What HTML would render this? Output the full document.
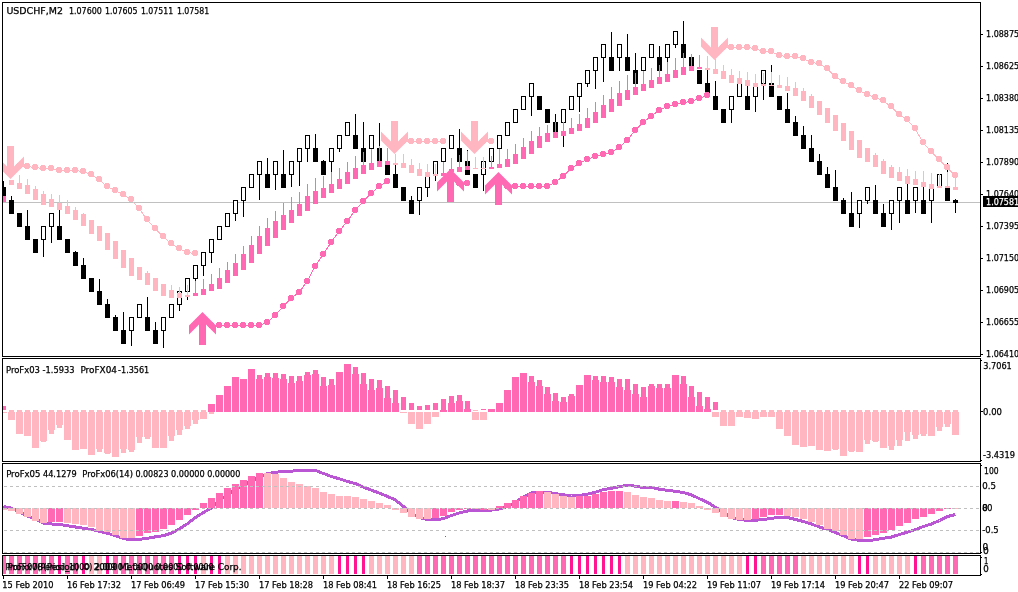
<!DOCTYPE html><html><head><meta charset="utf-8"><title>USDCHF,M2</title><style>html,body{margin:0;padding:0;background:#fff;overflow:hidden}svg{display:block}</style></head><body><svg width="1018" height="592" viewBox="0 0 1018 592">
<defs><clipPath id="cm"><rect x="3" y="3" width="977" height="353"/></clipPath><clipPath id="c1"><rect x="3" y="359" width="977" height="102"/></clipPath><clipPath id="c2"><rect x="3" y="464" width="977" height="89"/></clipPath><clipPath id="c3"><rect x="3" y="556" width="977" height="19"/></clipPath></defs>
<rect width="1018" height="592" fill="#fff"/>
<g clip-path="url(#cm)" shape-rendering="crispEdges"><rect x="3" y="202" width="978" height="1" fill="#C0C0C0"/><rect x="3" y="181" width="1" height="6" fill="#000"/><rect x="1" y="187" width="5" height="14" fill="#000"/><rect x="11" y="196" width="1" height="4" fill="#000"/><rect x="9" y="200" width="5" height="14" fill="#000"/><rect x="17" y="213" width="5" height="14" fill="#000"/><rect x="27" y="210" width="1" height="16" fill="#000"/><rect x="25" y="226" width="5" height="14" fill="#000"/><rect x="33" y="239" width="5" height="14" fill="#000"/><rect x="43" y="240" width="1" height="17" fill="#000"/><rect x="41" y="226" width="5" height="14" fill="#000"/><rect x="42" y="227" width="3" height="12" fill="#fff"/><rect x="51" y="227" width="1" height="16" fill="#000"/><rect x="49" y="213" width="5" height="14" fill="#000"/><rect x="50" y="214" width="3" height="12" fill="#fff"/><rect x="59" y="210" width="1" height="16" fill="#000"/><rect x="57" y="226" width="5" height="14" fill="#000"/><rect x="65" y="239" width="5" height="14" fill="#000"/><rect x="75" y="251" width="1" height="1" fill="#000"/><rect x="73" y="252" width="5" height="14" fill="#000"/><rect x="83" y="258" width="1" height="7" fill="#000"/><rect x="81" y="265" width="5" height="14" fill="#000"/><rect x="89" y="278" width="5" height="14" fill="#000"/><rect x="99" y="279" width="1" height="12" fill="#000"/><rect x="97" y="291" width="5" height="14" fill="#000"/><rect x="107" y="299" width="1" height="5" fill="#000"/><rect x="105" y="304" width="5" height="14" fill="#000"/><rect x="115" y="315" width="1" height="2" fill="#000"/><rect x="113" y="317" width="5" height="14" fill="#000"/><rect x="123" y="312" width="1" height="18" fill="#000"/><rect x="121" y="330" width="5" height="14" fill="#000"/><rect x="131" y="331" width="1" height="15" fill="#000"/><rect x="129" y="317" width="5" height="14" fill="#000"/><rect x="130" y="318" width="3" height="12" fill="#fff"/><rect x="137" y="304" width="5" height="14" fill="#000"/><rect x="138" y="305" width="3" height="12" fill="#fff"/><rect x="147" y="297" width="1" height="20" fill="#000"/><rect x="145" y="317" width="5" height="14" fill="#000"/><rect x="155" y="322" width="1" height="8" fill="#000"/><rect x="153" y="330" width="5" height="14" fill="#000"/><rect x="163" y="331" width="1" height="17" fill="#000"/><rect x="161" y="317" width="5" height="14" fill="#000"/><rect x="162" y="318" width="3" height="12" fill="#fff"/><rect x="169" y="304" width="5" height="14" fill="#000"/><rect x="170" y="305" width="3" height="12" fill="#fff"/><rect x="179" y="305" width="1" height="6" fill="#000"/><rect x="177" y="291" width="5" height="14" fill="#000"/><rect x="178" y="292" width="3" height="12" fill="#fff"/><rect x="187" y="292" width="1" height="8" fill="#000"/><rect x="185" y="278" width="5" height="14" fill="#000"/><rect x="186" y="279" width="3" height="12" fill="#fff"/><rect x="195" y="279" width="1" height="7" fill="#000"/><rect x="193" y="265" width="5" height="14" fill="#000"/><rect x="194" y="266" width="3" height="12" fill="#fff"/><rect x="203" y="266" width="1" height="10" fill="#000"/><rect x="201" y="252" width="5" height="14" fill="#000"/><rect x="202" y="253" width="3" height="12" fill="#fff"/><rect x="211" y="253" width="1" height="10" fill="#000"/><rect x="209" y="239" width="5" height="14" fill="#000"/><rect x="210" y="240" width="3" height="12" fill="#fff"/><rect x="217" y="226" width="5" height="14" fill="#000"/><rect x="218" y="227" width="3" height="12" fill="#fff"/><rect x="225" y="213" width="5" height="14" fill="#000"/><rect x="226" y="214" width="3" height="12" fill="#fff"/><rect x="235" y="214" width="1" height="7" fill="#000"/><rect x="233" y="200" width="5" height="14" fill="#000"/><rect x="234" y="201" width="3" height="12" fill="#fff"/><rect x="243" y="201" width="1" height="16" fill="#000"/><rect x="241" y="187" width="5" height="14" fill="#000"/><rect x="242" y="188" width="3" height="12" fill="#fff"/><rect x="249" y="174" width="5" height="14" fill="#000"/><rect x="250" y="175" width="3" height="12" fill="#fff"/><rect x="259" y="175" width="1" height="25" fill="#000"/><rect x="257" y="161" width="5" height="14" fill="#000"/><rect x="258" y="162" width="3" height="12" fill="#fff"/><rect x="267" y="158" width="1" height="16" fill="#000"/><rect x="265" y="174" width="5" height="14" fill="#000"/><rect x="275" y="175" width="1" height="15" fill="#000"/><rect x="273" y="161" width="5" height="14" fill="#000"/><rect x="274" y="162" width="3" height="12" fill="#fff"/><rect x="283" y="150" width="1" height="24" fill="#000"/><rect x="281" y="174" width="5" height="14" fill="#000"/><rect x="291" y="175" width="1" height="12" fill="#000"/><rect x="289" y="161" width="5" height="14" fill="#000"/><rect x="290" y="162" width="3" height="12" fill="#fff"/><rect x="299" y="162" width="1" height="24" fill="#000"/><rect x="297" y="148" width="5" height="14" fill="#000"/><rect x="298" y="149" width="3" height="12" fill="#fff"/><rect x="307" y="149" width="1" height="13" fill="#000"/><rect x="305" y="135" width="5" height="14" fill="#000"/><rect x="306" y="136" width="3" height="12" fill="#fff"/><rect x="315" y="134" width="1" height="14" fill="#000"/><rect x="313" y="148" width="5" height="14" fill="#000"/><rect x="323" y="160" width="1" height="1" fill="#000"/><rect x="321" y="161" width="5" height="14" fill="#000"/><rect x="331" y="162" width="1" height="10" fill="#000"/><rect x="329" y="148" width="5" height="14" fill="#000"/><rect x="330" y="149" width="3" height="12" fill="#fff"/><rect x="339" y="149" width="1" height="3" fill="#000"/><rect x="337" y="135" width="5" height="14" fill="#000"/><rect x="338" y="136" width="3" height="12" fill="#fff"/><rect x="345" y="122" width="5" height="14" fill="#000"/><rect x="346" y="123" width="3" height="12" fill="#fff"/><rect x="355" y="114" width="1" height="21" fill="#000"/><rect x="353" y="135" width="5" height="14" fill="#000"/><rect x="363" y="122" width="1" height="26" fill="#000"/><rect x="361" y="148" width="5" height="14" fill="#000"/><rect x="371" y="149" width="1" height="1" fill="#000"/><rect x="369" y="135" width="5" height="14" fill="#000"/><rect x="370" y="136" width="3" height="12" fill="#fff"/><rect x="379" y="123" width="1" height="25" fill="#000"/><rect x="377" y="148" width="5" height="14" fill="#000"/><rect x="385" y="161" width="5" height="14" fill="#000"/><rect x="395" y="165" width="1" height="9" fill="#000"/><rect x="393" y="174" width="5" height="14" fill="#000"/><rect x="401" y="187" width="5" height="14" fill="#000"/><rect x="411" y="196" width="1" height="4" fill="#000"/><rect x="409" y="200" width="5" height="14" fill="#000"/><rect x="419" y="201" width="1" height="14" fill="#000"/><rect x="417" y="187" width="5" height="14" fill="#000"/><rect x="418" y="188" width="3" height="12" fill="#fff"/><rect x="427" y="188" width="1" height="9" fill="#000"/><rect x="425" y="174" width="5" height="14" fill="#000"/><rect x="426" y="175" width="3" height="12" fill="#fff"/><rect x="435" y="175" width="1" height="6" fill="#000"/><rect x="433" y="161" width="5" height="14" fill="#000"/><rect x="434" y="162" width="3" height="12" fill="#fff"/><rect x="443" y="162" width="1" height="12" fill="#000"/><rect x="441" y="148" width="5" height="14" fill="#000"/><rect x="442" y="149" width="3" height="12" fill="#fff"/><rect x="449" y="135" width="5" height="14" fill="#000"/><rect x="450" y="136" width="3" height="12" fill="#fff"/><rect x="459" y="129" width="1" height="19" fill="#000"/><rect x="457" y="148" width="5" height="14" fill="#000"/><rect x="467" y="150" width="1" height="11" fill="#000"/><rect x="465" y="161" width="5" height="14" fill="#000"/><rect x="473" y="174" width="5" height="14" fill="#000"/><rect x="483" y="175" width="1" height="16" fill="#000"/><rect x="481" y="161" width="5" height="14" fill="#000"/><rect x="482" y="162" width="3" height="12" fill="#fff"/><rect x="489" y="148" width="5" height="14" fill="#000"/><rect x="490" y="149" width="3" height="12" fill="#fff"/><rect x="497" y="135" width="5" height="14" fill="#000"/><rect x="498" y="136" width="3" height="12" fill="#fff"/><rect x="505" y="122" width="5" height="14" fill="#000"/><rect x="506" y="123" width="3" height="12" fill="#fff"/><rect x="513" y="109" width="5" height="14" fill="#000"/><rect x="514" y="110" width="3" height="12" fill="#fff"/><rect x="521" y="96" width="5" height="14" fill="#000"/><rect x="522" y="97" width="3" height="12" fill="#fff"/><rect x="531" y="97" width="1" height="19" fill="#000"/><rect x="529" y="83" width="5" height="14" fill="#000"/><rect x="530" y="84" width="3" height="12" fill="#fff"/><rect x="537" y="96" width="5" height="14" fill="#000"/><rect x="545" y="109" width="5" height="14" fill="#000"/><rect x="555" y="114" width="1" height="8" fill="#000"/><rect x="553" y="122" width="5" height="14" fill="#000"/><rect x="563" y="123" width="1" height="24" fill="#000"/><rect x="561" y="109" width="5" height="14" fill="#000"/><rect x="562" y="110" width="3" height="12" fill="#fff"/><rect x="569" y="96" width="5" height="14" fill="#000"/><rect x="570" y="97" width="3" height="12" fill="#fff"/><rect x="579" y="97" width="1" height="15" fill="#000"/><rect x="577" y="83" width="5" height="14" fill="#000"/><rect x="578" y="84" width="3" height="12" fill="#fff"/><rect x="587" y="84" width="1" height="3" fill="#000"/><rect x="585" y="70" width="5" height="14" fill="#000"/><rect x="586" y="71" width="3" height="12" fill="#fff"/><rect x="595" y="71" width="1" height="18" fill="#000"/><rect x="593" y="57" width="5" height="14" fill="#000"/><rect x="594" y="58" width="3" height="12" fill="#fff"/><rect x="603" y="58" width="1" height="24" fill="#000"/><rect x="601" y="44" width="5" height="14" fill="#000"/><rect x="602" y="45" width="3" height="12" fill="#fff"/><rect x="611" y="32" width="1" height="25" fill="#000"/><rect x="609" y="57" width="5" height="14" fill="#000"/><rect x="619" y="58" width="1" height="13" fill="#000"/><rect x="617" y="44" width="5" height="14" fill="#000"/><rect x="618" y="45" width="3" height="12" fill="#fff"/><rect x="627" y="34" width="1" height="23" fill="#000"/><rect x="625" y="57" width="5" height="14" fill="#000"/><rect x="635" y="53" width="1" height="17" fill="#000"/><rect x="633" y="70" width="5" height="14" fill="#000"/><rect x="641" y="57" width="5" height="14" fill="#000"/><rect x="642" y="58" width="3" height="12" fill="#fff"/><rect x="649" y="44" width="5" height="14" fill="#000"/><rect x="650" y="45" width="3" height="12" fill="#fff"/><rect x="659" y="46" width="1" height="11" fill="#000"/><rect x="657" y="57" width="5" height="14" fill="#000"/><rect x="667" y="58" width="1" height="4" fill="#000"/><rect x="665" y="44" width="5" height="14" fill="#000"/><rect x="666" y="45" width="3" height="12" fill="#fff"/><rect x="675" y="45" width="1" height="3" fill="#000"/><rect x="673" y="31" width="5" height="14" fill="#000"/><rect x="674" y="32" width="3" height="12" fill="#fff"/><rect x="683" y="21" width="1" height="23" fill="#000"/><rect x="681" y="44" width="5" height="14" fill="#000"/><rect x="689" y="57" width="5" height="14" fill="#000"/><rect x="697" y="70" width="5" height="14" fill="#000"/><rect x="707" y="70" width="1" height="13" fill="#000"/><rect x="705" y="83" width="5" height="14" fill="#000"/><rect x="715" y="81" width="1" height="15" fill="#000"/><rect x="713" y="96" width="5" height="14" fill="#000"/><rect x="721" y="109" width="5" height="14" fill="#000"/><rect x="731" y="110" width="1" height="13" fill="#000"/><rect x="729" y="96" width="5" height="14" fill="#000"/><rect x="730" y="97" width="3" height="12" fill="#fff"/><rect x="737" y="83" width="5" height="14" fill="#000"/><rect x="738" y="84" width="3" height="12" fill="#fff"/><rect x="747" y="85" width="1" height="11" fill="#000"/><rect x="745" y="96" width="5" height="14" fill="#000"/><rect x="755" y="97" width="1" height="15" fill="#000"/><rect x="753" y="83" width="5" height="14" fill="#000"/><rect x="754" y="84" width="3" height="12" fill="#fff"/><rect x="763" y="84" width="1" height="16" fill="#000"/><rect x="761" y="70" width="5" height="14" fill="#000"/><rect x="762" y="71" width="3" height="12" fill="#fff"/><rect x="771" y="65" width="1" height="18" fill="#000"/><rect x="769" y="83" width="5" height="14" fill="#000"/><rect x="777" y="96" width="5" height="14" fill="#000"/><rect x="787" y="93" width="1" height="16" fill="#000"/><rect x="785" y="109" width="5" height="14" fill="#000"/><rect x="795" y="116" width="1" height="6" fill="#000"/><rect x="793" y="122" width="5" height="14" fill="#000"/><rect x="803" y="126" width="1" height="9" fill="#000"/><rect x="801" y="135" width="5" height="14" fill="#000"/><rect x="811" y="135" width="1" height="13" fill="#000"/><rect x="809" y="148" width="5" height="14" fill="#000"/><rect x="819" y="154" width="1" height="7" fill="#000"/><rect x="817" y="161" width="5" height="14" fill="#000"/><rect x="827" y="167" width="1" height="7" fill="#000"/><rect x="825" y="174" width="5" height="14" fill="#000"/><rect x="835" y="170" width="1" height="17" fill="#000"/><rect x="833" y="187" width="5" height="14" fill="#000"/><rect x="843" y="198" width="1" height="2" fill="#000"/><rect x="841" y="200" width="5" height="14" fill="#000"/><rect x="851" y="192" width="1" height="21" fill="#000"/><rect x="849" y="213" width="5" height="14" fill="#000"/><rect x="859" y="214" width="1" height="14" fill="#000"/><rect x="857" y="200" width="5" height="14" fill="#000"/><rect x="858" y="201" width="3" height="12" fill="#fff"/><rect x="867" y="201" width="1" height="3" fill="#000"/><rect x="865" y="187" width="5" height="14" fill="#000"/><rect x="866" y="188" width="3" height="12" fill="#fff"/><rect x="875" y="185" width="1" height="15" fill="#000"/><rect x="873" y="200" width="5" height="14" fill="#000"/><rect x="883" y="204" width="1" height="9" fill="#000"/><rect x="881" y="213" width="5" height="14" fill="#000"/><rect x="891" y="214" width="1" height="16" fill="#000"/><rect x="889" y="200" width="5" height="14" fill="#000"/><rect x="890" y="201" width="3" height="12" fill="#fff"/><rect x="899" y="201" width="1" height="22" fill="#000"/><rect x="897" y="187" width="5" height="14" fill="#000"/><rect x="898" y="188" width="3" height="12" fill="#fff"/><rect x="907" y="184" width="1" height="16" fill="#000"/><rect x="905" y="200" width="5" height="14" fill="#000"/><rect x="915" y="201" width="1" height="12" fill="#000"/><rect x="913" y="187" width="5" height="14" fill="#000"/><rect x="914" y="188" width="3" height="12" fill="#fff"/><rect x="923" y="187" width="1" height="13" fill="#000"/><rect x="921" y="200" width="5" height="14" fill="#000"/><rect x="931" y="201" width="1" height="22" fill="#000"/><rect x="929" y="187" width="5" height="14" fill="#000"/><rect x="930" y="188" width="3" height="12" fill="#fff"/><rect x="937" y="174" width="5" height="14" fill="#000"/><rect x="938" y="175" width="3" height="12" fill="#fff"/><rect x="947" y="163" width="1" height="24" fill="#000"/><rect x="945" y="187" width="5" height="14" fill="#000"/><rect x="955" y="199" width="1" height="1" fill="#000"/><rect x="955" y="203" width="1" height="10" fill="#000"/><rect x="953" y="200" width="5" height="3" fill="#000"/><rect x="1" y="196" width="5" height="6" fill="#FF69B4"/><rect x="9" y="180" width="5" height="5" fill="#FFB6C1"/><rect x="19" y="175" width="1" height="8" fill="#FFB6C1"/><rect x="17" y="183" width="5" height="6" fill="#FFB6C1"/><rect x="27" y="179" width="1" height="6" fill="#FFB6C1"/><rect x="25" y="185" width="5" height="9" fill="#FFB6C1"/><rect x="35" y="186" width="1" height="3" fill="#FFB6C1"/><rect x="33" y="189" width="5" height="11" fill="#FFB6C1"/><rect x="43" y="191" width="1" height="3" fill="#FFB6C1"/><rect x="41" y="194" width="5" height="11" fill="#FFB6C1"/><rect x="51" y="194" width="1" height="5" fill="#FFB6C1"/><rect x="49" y="199" width="5" height="8" fill="#FFB6C1"/><rect x="59" y="195" width="1" height="8" fill="#FFB6C1"/><rect x="57" y="203" width="5" height="7" fill="#FFB6C1"/><rect x="67" y="200" width="1" height="6" fill="#FFB6C1"/><rect x="65" y="206" width="5" height="8" fill="#FFB6C1"/><rect x="75" y="207" width="1" height="3" fill="#FFB6C1"/><rect x="73" y="210" width="5" height="10" fill="#FFB6C1"/><rect x="83" y="213" width="1" height="1" fill="#FFB6C1"/><rect x="81" y="214" width="5" height="12" fill="#FFB6C1"/><rect x="89" y="220" width="5" height="14" fill="#FFB6C1"/><rect x="97" y="226" width="5" height="15" fill="#FFB6C1"/><rect x="105" y="233" width="5" height="17" fill="#FFB6C1"/><rect x="113" y="241" width="5" height="18" fill="#FFB6C1"/><rect x="121" y="250" width="5" height="18" fill="#FFB6C1"/><rect x="129" y="258" width="5" height="18" fill="#FFB6C1"/><rect x="137" y="267" width="5" height="13" fill="#FFB6C1"/><rect x="147" y="271" width="1" height="2" fill="#FFB6C1"/><rect x="145" y="273" width="5" height="12" fill="#FFB6C1"/><rect x="153" y="278" width="5" height="13" fill="#FFB6C1"/><rect x="161" y="284" width="5" height="12" fill="#FFB6C1"/><rect x="171" y="285" width="1" height="5" fill="#FFB6C1"/><rect x="169" y="290" width="5" height="8" fill="#FFB6C1"/><rect x="179" y="287" width="1" height="6" fill="#FFB6C1"/><rect x="177" y="293" width="5" height="5" fill="#FFB6C1"/><rect x="187" y="285" width="1" height="10" fill="#FFB6C1"/><rect x="185" y="295" width="5" height="2" fill="#FFB6C1"/><rect x="195" y="281" width="1" height="12" fill="#FF69B4"/><rect x="193" y="293" width="5" height="3" fill="#FF69B4"/><rect x="203" y="279" width="1" height="10" fill="#FF69B4"/><rect x="201" y="289" width="5" height="6" fill="#FF69B4"/><rect x="211" y="274" width="1" height="10" fill="#FF69B4"/><rect x="209" y="284" width="5" height="7" fill="#FF69B4"/><rect x="219" y="268" width="1" height="10" fill="#FF69B4"/><rect x="217" y="278" width="5" height="11" fill="#FF69B4"/><rect x="227" y="262" width="1" height="8" fill="#FF69B4"/><rect x="225" y="270" width="5" height="13" fill="#FF69B4"/><rect x="235" y="254" width="1" height="9" fill="#FF69B4"/><rect x="233" y="263" width="5" height="13" fill="#FF69B4"/><rect x="243" y="246" width="1" height="8" fill="#FF69B4"/><rect x="241" y="254" width="5" height="16" fill="#FF69B4"/><rect x="251" y="236" width="1" height="9" fill="#FF69B4"/><rect x="249" y="245" width="5" height="18" fill="#FF69B4"/><rect x="259" y="226" width="1" height="10" fill="#FF69B4"/><rect x="257" y="236" width="5" height="18" fill="#FF69B4"/><rect x="267" y="218" width="1" height="10" fill="#FF69B4"/><rect x="265" y="228" width="5" height="18" fill="#FF69B4"/><rect x="275" y="211" width="1" height="10" fill="#FF69B4"/><rect x="273" y="221" width="5" height="17" fill="#FF69B4"/><rect x="283" y="203" width="1" height="12" fill="#FF69B4"/><rect x="281" y="215" width="5" height="15" fill="#FF69B4"/><rect x="291" y="197" width="1" height="13" fill="#FF69B4"/><rect x="289" y="210" width="5" height="13" fill="#FF69B4"/><rect x="299" y="192" width="1" height="12" fill="#FF69B4"/><rect x="297" y="204" width="5" height="12" fill="#FF69B4"/><rect x="307" y="184" width="1" height="12" fill="#FF69B4"/><rect x="305" y="196" width="5" height="15" fill="#FF69B4"/><rect x="315" y="178" width="1" height="13" fill="#FF69B4"/><rect x="313" y="191" width="5" height="13" fill="#FF69B4"/><rect x="323" y="176" width="1" height="12" fill="#FF69B4"/><rect x="321" y="188" width="5" height="10" fill="#FF69B4"/><rect x="331" y="172" width="1" height="12" fill="#FF69B4"/><rect x="329" y="184" width="5" height="9" fill="#FF69B4"/><rect x="339" y="168" width="1" height="11" fill="#FF69B4"/><rect x="337" y="179" width="5" height="10" fill="#FF69B4"/><rect x="347" y="162" width="1" height="10" fill="#FF69B4"/><rect x="345" y="172" width="5" height="12" fill="#FF69B4"/><rect x="355" y="156" width="1" height="12" fill="#FF69B4"/><rect x="353" y="168" width="5" height="11" fill="#FF69B4"/><rect x="363" y="152" width="1" height="13" fill="#FF69B4"/><rect x="361" y="165" width="5" height="9" fill="#FF69B4"/><rect x="371" y="149" width="1" height="14" fill="#FF69B4"/><rect x="369" y="163" width="5" height="7" fill="#FF69B4"/><rect x="379" y="146" width="1" height="15" fill="#FF69B4"/><rect x="377" y="161" width="5" height="6" fill="#FF69B4"/><rect x="387" y="148" width="1" height="13" fill="#FF69B4"/><rect x="385" y="161" width="5" height="4" fill="#FF69B4"/><rect x="395" y="154" width="1" height="9" fill="#FFB6C1"/><rect x="393" y="163" width="5" height="2" fill="#FFB6C1"/><rect x="403" y="154" width="1" height="9" fill="#FFB6C1"/><rect x="401" y="163" width="5" height="5" fill="#FFB6C1"/><rect x="411" y="159" width="1" height="6" fill="#FFB6C1"/><rect x="409" y="165" width="5" height="8" fill="#FFB6C1"/><rect x="419" y="163" width="1" height="6" fill="#FFB6C1"/><rect x="417" y="169" width="5" height="7" fill="#FFB6C1"/><rect x="427" y="164" width="1" height="8" fill="#FFB6C1"/><rect x="425" y="172" width="5" height="5" fill="#FFB6C1"/><rect x="435" y="164" width="1" height="10" fill="#FFB6C1"/><rect x="433" y="174" width="5" height="2" fill="#FFB6C1"/><rect x="443" y="162" width="1" height="11" fill="#FF69B4"/><rect x="441" y="173" width="5" height="3" fill="#FF69B4"/><rect x="451" y="158" width="1" height="11" fill="#FF69B4"/><rect x="449" y="169" width="5" height="3" fill="#FF69B4"/><rect x="459" y="155" width="1" height="12" fill="#FF69B4"/><rect x="457" y="167" width="5" height="5" fill="#FF69B4"/><rect x="467" y="151" width="1" height="15" fill="#FF69B4"/><rect x="465" y="166" width="5" height="4" fill="#FF69B4"/><rect x="475" y="157" width="1" height="11" fill="#FFB6C1"/><rect x="473" y="168" width="5" height="1" fill="#FFB6C1"/><rect x="483" y="157" width="1" height="11" fill="#FFB6C1"/><rect x="481" y="168" width="5" height="1" fill="#FFB6C1"/><rect x="491" y="156" width="1" height="11" fill="#FF69B4"/><rect x="489" y="167" width="5" height="2" fill="#FF69B4"/><rect x="499" y="149" width="1" height="15" fill="#FF69B4"/><rect x="497" y="164" width="5" height="4" fill="#FF69B4"/><rect x="507" y="149" width="1" height="10" fill="#FF69B4"/><rect x="505" y="159" width="5" height="8" fill="#FF69B4"/><rect x="515" y="144" width="1" height="10" fill="#FF69B4"/><rect x="513" y="154" width="5" height="10" fill="#FF69B4"/><rect x="523" y="138" width="1" height="9" fill="#FF69B4"/><rect x="521" y="147" width="5" height="12" fill="#FF69B4"/><rect x="531" y="131" width="1" height="10" fill="#FF69B4"/><rect x="529" y="141" width="5" height="13" fill="#FF69B4"/><rect x="539" y="127" width="1" height="9" fill="#FF69B4"/><rect x="537" y="136" width="5" height="12" fill="#FF69B4"/><rect x="547" y="125" width="1" height="8" fill="#FF69B4"/><rect x="545" y="133" width="5" height="9" fill="#FF69B4"/><rect x="555" y="122" width="1" height="10" fill="#FF69B4"/><rect x="553" y="132" width="5" height="6" fill="#FF69B4"/><rect x="563" y="122" width="1" height="9" fill="#FF69B4"/><rect x="561" y="131" width="5" height="5" fill="#FF69B4"/><rect x="571" y="118" width="1" height="10" fill="#FF69B4"/><rect x="569" y="128" width="5" height="6" fill="#FF69B4"/><rect x="579" y="114" width="1" height="10" fill="#FF69B4"/><rect x="577" y="124" width="5" height="7" fill="#FF69B4"/><rect x="587" y="108" width="1" height="10" fill="#FF69B4"/><rect x="585" y="118" width="5" height="10" fill="#FF69B4"/><rect x="595" y="102" width="1" height="10" fill="#FF69B4"/><rect x="593" y="112" width="5" height="11" fill="#FF69B4"/><rect x="603" y="95" width="1" height="10" fill="#FF69B4"/><rect x="601" y="105" width="5" height="13" fill="#FF69B4"/><rect x="611" y="87" width="1" height="12" fill="#FF69B4"/><rect x="609" y="99" width="5" height="13" fill="#FF69B4"/><rect x="619" y="81" width="1" height="12" fill="#FF69B4"/><rect x="617" y="93" width="5" height="13" fill="#FF69B4"/><rect x="627" y="75" width="1" height="15" fill="#FF69B4"/><rect x="625" y="90" width="5" height="10" fill="#FF69B4"/><rect x="635" y="73" width="1" height="14" fill="#FF69B4"/><rect x="633" y="87" width="5" height="8" fill="#FF69B4"/><rect x="643" y="71" width="1" height="13" fill="#FF69B4"/><rect x="641" y="84" width="5" height="7" fill="#FF69B4"/><rect x="651" y="68" width="1" height="12" fill="#FF69B4"/><rect x="649" y="80" width="5" height="8" fill="#FF69B4"/><rect x="659" y="65" width="1" height="12" fill="#FF69B4"/><rect x="657" y="77" width="5" height="7" fill="#FF69B4"/><rect x="667" y="62" width="1" height="12" fill="#FF69B4"/><rect x="665" y="74" width="5" height="8" fill="#FF69B4"/><rect x="675" y="58" width="1" height="12" fill="#FF69B4"/><rect x="673" y="70" width="5" height="8" fill="#FF69B4"/><rect x="683" y="53" width="1" height="14" fill="#FF69B4"/><rect x="681" y="67" width="5" height="8" fill="#FF69B4"/><rect x="691" y="54" width="1" height="12" fill="#FF69B4"/><rect x="689" y="66" width="5" height="5" fill="#FF69B4"/><rect x="699" y="55" width="1" height="12" fill="#FF69B4"/><rect x="697" y="67" width="5" height="2" fill="#FF69B4"/><rect x="707" y="56" width="1" height="12" fill="#FFB6C1"/><rect x="705" y="68" width="5" height="2" fill="#FFB6C1"/><rect x="715" y="59" width="1" height="10" fill="#FFB6C1"/><rect x="713" y="69" width="5" height="5" fill="#FFB6C1"/><rect x="723" y="65" width="1" height="6" fill="#FFB6C1"/><rect x="721" y="71" width="5" height="8" fill="#FFB6C1"/><rect x="731" y="69" width="1" height="6" fill="#FFB6C1"/><rect x="729" y="75" width="5" height="8" fill="#FFB6C1"/><rect x="739" y="71" width="1" height="7" fill="#FFB6C1"/><rect x="737" y="78" width="5" height="6" fill="#FFB6C1"/><rect x="747" y="72" width="1" height="8" fill="#FFB6C1"/><rect x="745" y="80" width="5" height="6" fill="#FFB6C1"/><rect x="755" y="74" width="1" height="9" fill="#FFB6C1"/><rect x="753" y="83" width="5" height="4" fill="#FFB6C1"/><rect x="763" y="73" width="1" height="11" fill="#FFB6C1"/><rect x="761" y="84" width="5" height="2" fill="#FFB6C1"/><rect x="771" y="72" width="1" height="13" fill="#FFB6C1"/><rect x="769" y="85" width="5" height="1" fill="#FFB6C1"/><rect x="779" y="75" width="1" height="10" fill="#FFB6C1"/><rect x="777" y="85" width="5" height="3" fill="#FFB6C1"/><rect x="787" y="77" width="1" height="9" fill="#FFB6C1"/><rect x="785" y="86" width="5" height="5" fill="#FFB6C1"/><rect x="795" y="82" width="1" height="6" fill="#FFB6C1"/><rect x="793" y="88" width="5" height="8" fill="#FFB6C1"/><rect x="803" y="88" width="1" height="3" fill="#FFB6C1"/><rect x="801" y="91" width="5" height="10" fill="#FFB6C1"/><rect x="811" y="94" width="1" height="2" fill="#FFB6C1"/><rect x="809" y="96" width="5" height="12" fill="#FFB6C1"/><rect x="817" y="101" width="5" height="14" fill="#FFB6C1"/><rect x="825" y="108" width="5" height="15" fill="#FFB6C1"/><rect x="833" y="115" width="5" height="16" fill="#FFB6C1"/><rect x="841" y="123" width="5" height="18" fill="#FFB6C1"/><rect x="849" y="131" width="5" height="19" fill="#FFB6C1"/><rect x="857" y="140" width="5" height="18" fill="#FFB6C1"/><rect x="865" y="148" width="5" height="14" fill="#FFB6C1"/><rect x="875" y="153" width="1" height="2" fill="#FFB6C1"/><rect x="873" y="155" width="5" height="12" fill="#FFB6C1"/><rect x="883" y="159" width="1" height="2" fill="#FFB6C1"/><rect x="881" y="161" width="5" height="13" fill="#FFB6C1"/><rect x="891" y="165" width="1" height="2" fill="#FFB6C1"/><rect x="889" y="167" width="5" height="11" fill="#FFB6C1"/><rect x="899" y="167" width="1" height="5" fill="#FFB6C1"/><rect x="897" y="172" width="5" height="9" fill="#FFB6C1"/><rect x="907" y="169" width="1" height="7" fill="#FFB6C1"/><rect x="905" y="176" width="5" height="8" fill="#FFB6C1"/><rect x="915" y="171" width="1" height="8" fill="#FFB6C1"/><rect x="913" y="179" width="5" height="6" fill="#FFB6C1"/><rect x="923" y="171" width="1" height="11" fill="#FFB6C1"/><rect x="921" y="182" width="5" height="5" fill="#FFB6C1"/><rect x="931" y="173" width="1" height="11" fill="#FFB6C1"/><rect x="929" y="184" width="5" height="5" fill="#FFB6C1"/><rect x="939" y="174" width="1" height="12" fill="#FFB6C1"/><rect x="937" y="186" width="5" height="2" fill="#FFB6C1"/><rect x="947" y="172" width="1" height="14" fill="#FFB6C1"/><rect x="945" y="186" width="5" height="2" fill="#FFB6C1"/><rect x="955" y="175" width="1" height="12" fill="#FFB6C1"/><rect x="953" y="187" width="5" height="3" fill="#FFB6C1"/><rect x="16" y="164" width="6" height="4" fill="#FFB6C1"/><rect x="17" y="163" width="4" height="6" fill="#FFB6C1"/><rect x="24" y="164" width="6" height="4" fill="#FFB6C1"/><rect x="25" y="163" width="4" height="6" fill="#FFB6C1"/><rect x="32" y="165" width="6" height="4" fill="#FFB6C1"/><rect x="33" y="164" width="4" height="6" fill="#FFB6C1"/><rect x="40" y="166" width="6" height="4" fill="#FFB6C1"/><rect x="41" y="165" width="4" height="6" fill="#FFB6C1"/><rect x="48" y="166" width="6" height="4" fill="#FFB6C1"/><rect x="49" y="165" width="4" height="6" fill="#FFB6C1"/><rect x="56" y="168" width="6" height="4" fill="#FFB6C1"/><rect x="57" y="167" width="4" height="6" fill="#FFB6C1"/><rect x="64" y="168" width="6" height="4" fill="#FFB6C1"/><rect x="65" y="167" width="4" height="6" fill="#FFB6C1"/><rect x="72" y="168" width="6" height="4" fill="#FFB6C1"/><rect x="73" y="167" width="4" height="6" fill="#FFB6C1"/><rect x="80" y="169" width="6" height="4" fill="#FFB6C1"/><rect x="81" y="168" width="4" height="6" fill="#FFB6C1"/><rect x="88" y="172" width="6" height="4" fill="#FFB6C1"/><rect x="89" y="171" width="4" height="6" fill="#FFB6C1"/><rect x="96" y="177" width="6" height="4" fill="#FFB6C1"/><rect x="97" y="176" width="4" height="6" fill="#FFB6C1"/><rect x="104" y="184" width="6" height="4" fill="#FFB6C1"/><rect x="105" y="183" width="4" height="6" fill="#FFB6C1"/><rect x="112" y="188" width="6" height="4" fill="#FFB6C1"/><rect x="113" y="187" width="4" height="6" fill="#FFB6C1"/><rect x="120" y="192" width="6" height="4" fill="#FFB6C1"/><rect x="121" y="191" width="4" height="6" fill="#FFB6C1"/><rect x="128" y="197" width="6" height="4" fill="#FFB6C1"/><rect x="129" y="196" width="4" height="6" fill="#FFB6C1"/><rect x="136" y="206" width="6" height="4" fill="#FFB6C1"/><rect x="137" y="205" width="4" height="6" fill="#FFB6C1"/><rect x="144" y="217" width="6" height="4" fill="#FFB6C1"/><rect x="145" y="216" width="4" height="6" fill="#FFB6C1"/><rect x="152" y="226" width="6" height="4" fill="#FFB6C1"/><rect x="153" y="225" width="4" height="6" fill="#FFB6C1"/><rect x="160" y="234" width="6" height="4" fill="#FFB6C1"/><rect x="161" y="233" width="4" height="6" fill="#FFB6C1"/><rect x="168" y="241" width="6" height="4" fill="#FFB6C1"/><rect x="169" y="240" width="4" height="6" fill="#FFB6C1"/><rect x="176" y="246" width="6" height="4" fill="#FFB6C1"/><rect x="177" y="245" width="4" height="6" fill="#FFB6C1"/><rect x="184" y="250" width="6" height="4" fill="#FFB6C1"/><rect x="185" y="249" width="4" height="6" fill="#FFB6C1"/><rect x="192" y="251" width="6" height="4" fill="#FFB6C1"/><rect x="193" y="250" width="4" height="6" fill="#FFB6C1"/><rect x="400" y="139" width="6" height="4" fill="#FFB6C1"/><rect x="401" y="138" width="4" height="6" fill="#FFB6C1"/><rect x="408" y="139" width="6" height="4" fill="#FFB6C1"/><rect x="409" y="138" width="4" height="6" fill="#FFB6C1"/><rect x="416" y="139" width="6" height="4" fill="#FFB6C1"/><rect x="417" y="138" width="4" height="6" fill="#FFB6C1"/><rect x="424" y="139" width="6" height="4" fill="#FFB6C1"/><rect x="425" y="138" width="4" height="6" fill="#FFB6C1"/><rect x="432" y="139" width="6" height="4" fill="#FFB6C1"/><rect x="433" y="138" width="4" height="6" fill="#FFB6C1"/><rect x="440" y="139" width="6" height="4" fill="#FFB6C1"/><rect x="441" y="138" width="4" height="6" fill="#FFB6C1"/><rect x="480" y="139" width="6" height="4" fill="#FFB6C1"/><rect x="481" y="138" width="4" height="6" fill="#FFB6C1"/><rect x="488" y="139" width="6" height="4" fill="#FFB6C1"/><rect x="489" y="138" width="4" height="6" fill="#FFB6C1"/><rect x="720" y="45" width="6" height="4" fill="#FFB6C1"/><rect x="721" y="44" width="4" height="6" fill="#FFB6C1"/><rect x="728" y="45" width="6" height="4" fill="#FFB6C1"/><rect x="729" y="44" width="4" height="6" fill="#FFB6C1"/><rect x="736" y="45" width="6" height="4" fill="#FFB6C1"/><rect x="737" y="44" width="4" height="6" fill="#FFB6C1"/><rect x="744" y="45" width="6" height="4" fill="#FFB6C1"/><rect x="745" y="44" width="4" height="6" fill="#FFB6C1"/><rect x="752" y="46" width="6" height="4" fill="#FFB6C1"/><rect x="753" y="45" width="4" height="6" fill="#FFB6C1"/><rect x="760" y="49" width="6" height="4" fill="#FFB6C1"/><rect x="761" y="48" width="4" height="6" fill="#FFB6C1"/><rect x="768" y="49" width="6" height="4" fill="#FFB6C1"/><rect x="769" y="48" width="4" height="6" fill="#FFB6C1"/><rect x="776" y="53" width="6" height="4" fill="#FFB6C1"/><rect x="777" y="52" width="4" height="6" fill="#FFB6C1"/><rect x="784" y="54" width="6" height="4" fill="#FFB6C1"/><rect x="785" y="53" width="4" height="6" fill="#FFB6C1"/><rect x="792" y="54" width="6" height="4" fill="#FFB6C1"/><rect x="793" y="53" width="4" height="6" fill="#FFB6C1"/><rect x="800" y="56" width="6" height="4" fill="#FFB6C1"/><rect x="801" y="55" width="4" height="6" fill="#FFB6C1"/><rect x="808" y="60" width="6" height="4" fill="#FFB6C1"/><rect x="809" y="59" width="4" height="6" fill="#FFB6C1"/><rect x="816" y="61" width="6" height="4" fill="#FFB6C1"/><rect x="817" y="60" width="4" height="6" fill="#FFB6C1"/><rect x="824" y="66" width="6" height="4" fill="#FFB6C1"/><rect x="825" y="65" width="4" height="6" fill="#FFB6C1"/><rect x="832" y="74" width="6" height="4" fill="#FFB6C1"/><rect x="833" y="73" width="4" height="6" fill="#FFB6C1"/><rect x="840" y="79" width="6" height="4" fill="#FFB6C1"/><rect x="841" y="78" width="4" height="6" fill="#FFB6C1"/><rect x="848" y="83" width="6" height="4" fill="#FFB6C1"/><rect x="849" y="82" width="4" height="6" fill="#FFB6C1"/><rect x="856" y="88" width="6" height="4" fill="#FFB6C1"/><rect x="857" y="87" width="4" height="6" fill="#FFB6C1"/><rect x="864" y="92" width="6" height="4" fill="#FFB6C1"/><rect x="865" y="91" width="4" height="6" fill="#FFB6C1"/><rect x="872" y="95" width="6" height="4" fill="#FFB6C1"/><rect x="873" y="94" width="4" height="6" fill="#FFB6C1"/><rect x="880" y="98" width="6" height="4" fill="#FFB6C1"/><rect x="881" y="97" width="4" height="6" fill="#FFB6C1"/><rect x="888" y="104" width="6" height="4" fill="#FFB6C1"/><rect x="889" y="103" width="4" height="6" fill="#FFB6C1"/><rect x="896" y="112" width="6" height="4" fill="#FFB6C1"/><rect x="897" y="111" width="4" height="6" fill="#FFB6C1"/><rect x="904" y="117" width="6" height="4" fill="#FFB6C1"/><rect x="905" y="116" width="4" height="6" fill="#FFB6C1"/><rect x="912" y="126" width="6" height="4" fill="#FFB6C1"/><rect x="913" y="125" width="4" height="6" fill="#FFB6C1"/><rect x="920" y="140" width="6" height="4" fill="#FFB6C1"/><rect x="921" y="139" width="4" height="6" fill="#FFB6C1"/><rect x="928" y="149" width="6" height="4" fill="#FFB6C1"/><rect x="929" y="148" width="4" height="6" fill="#FFB6C1"/><rect x="936" y="157" width="6" height="4" fill="#FFB6C1"/><rect x="937" y="156" width="4" height="6" fill="#FFB6C1"/><rect x="944" y="165" width="6" height="4" fill="#FFB6C1"/><rect x="945" y="164" width="4" height="6" fill="#FFB6C1"/><rect x="952" y="173" width="6" height="4" fill="#FFB6C1"/><rect x="953" y="172" width="4" height="6" fill="#FFB6C1"/><rect x="208" y="323" width="6" height="4" fill="#FF69B4"/><rect x="209" y="322" width="4" height="6" fill="#FF69B4"/><rect x="216" y="323" width="6" height="4" fill="#FF69B4"/><rect x="217" y="322" width="4" height="6" fill="#FF69B4"/><rect x="224" y="323" width="6" height="4" fill="#FF69B4"/><rect x="225" y="322" width="4" height="6" fill="#FF69B4"/><rect x="232" y="323" width="6" height="4" fill="#FF69B4"/><rect x="233" y="322" width="4" height="6" fill="#FF69B4"/><rect x="240" y="323" width="6" height="4" fill="#FF69B4"/><rect x="241" y="322" width="4" height="6" fill="#FF69B4"/><rect x="248" y="323" width="6" height="4" fill="#FF69B4"/><rect x="249" y="322" width="4" height="6" fill="#FF69B4"/><rect x="256" y="323" width="6" height="4" fill="#FF69B4"/><rect x="257" y="322" width="4" height="6" fill="#FF69B4"/><rect x="264" y="320" width="6" height="4" fill="#FF69B4"/><rect x="265" y="319" width="4" height="6" fill="#FF69B4"/><rect x="272" y="313" width="6" height="4" fill="#FF69B4"/><rect x="273" y="312" width="4" height="6" fill="#FF69B4"/><rect x="280" y="304" width="6" height="4" fill="#FF69B4"/><rect x="281" y="303" width="4" height="6" fill="#FF69B4"/><rect x="288" y="296" width="6" height="4" fill="#FF69B4"/><rect x="289" y="295" width="4" height="6" fill="#FF69B4"/><rect x="296" y="290" width="6" height="4" fill="#FF69B4"/><rect x="297" y="289" width="4" height="6" fill="#FF69B4"/><rect x="304" y="279" width="6" height="4" fill="#FF69B4"/><rect x="305" y="278" width="4" height="6" fill="#FF69B4"/><rect x="312" y="264" width="6" height="4" fill="#FF69B4"/><rect x="313" y="263" width="4" height="6" fill="#FF69B4"/><rect x="320" y="252" width="6" height="4" fill="#FF69B4"/><rect x="321" y="251" width="4" height="6" fill="#FF69B4"/><rect x="328" y="240" width="6" height="4" fill="#FF69B4"/><rect x="329" y="239" width="4" height="6" fill="#FF69B4"/><rect x="336" y="229" width="6" height="4" fill="#FF69B4"/><rect x="337" y="228" width="4" height="6" fill="#FF69B4"/><rect x="344" y="219" width="6" height="4" fill="#FF69B4"/><rect x="345" y="218" width="4" height="6" fill="#FF69B4"/><rect x="352" y="208" width="6" height="4" fill="#FF69B4"/><rect x="353" y="207" width="4" height="6" fill="#FF69B4"/><rect x="360" y="199" width="6" height="4" fill="#FF69B4"/><rect x="361" y="198" width="4" height="6" fill="#FF69B4"/><rect x="368" y="191" width="6" height="4" fill="#FF69B4"/><rect x="369" y="190" width="4" height="6" fill="#FF69B4"/><rect x="376" y="184" width="6" height="4" fill="#FF69B4"/><rect x="377" y="183" width="4" height="6" fill="#FF69B4"/><rect x="384" y="179" width="6" height="4" fill="#FF69B4"/><rect x="385" y="178" width="4" height="6" fill="#FF69B4"/><rect x="456" y="181" width="6" height="4" fill="#FF69B4"/><rect x="457" y="180" width="4" height="6" fill="#FF69B4"/><rect x="464" y="181" width="6" height="4" fill="#FF69B4"/><rect x="465" y="180" width="4" height="6" fill="#FF69B4"/><rect x="504" y="184" width="6" height="4" fill="#FF69B4"/><rect x="505" y="183" width="4" height="6" fill="#FF69B4"/><rect x="512" y="184" width="6" height="4" fill="#FF69B4"/><rect x="513" y="183" width="4" height="6" fill="#FF69B4"/><rect x="520" y="184" width="6" height="4" fill="#FF69B4"/><rect x="521" y="183" width="4" height="6" fill="#FF69B4"/><rect x="528" y="184" width="6" height="4" fill="#FF69B4"/><rect x="529" y="183" width="4" height="6" fill="#FF69B4"/><rect x="536" y="184" width="6" height="4" fill="#FF69B4"/><rect x="537" y="183" width="4" height="6" fill="#FF69B4"/><rect x="544" y="184" width="6" height="4" fill="#FF69B4"/><rect x="545" y="183" width="4" height="6" fill="#FF69B4"/><rect x="552" y="180" width="6" height="4" fill="#FF69B4"/><rect x="553" y="179" width="4" height="6" fill="#FF69B4"/><rect x="560" y="174" width="6" height="4" fill="#FF69B4"/><rect x="561" y="173" width="4" height="6" fill="#FF69B4"/><rect x="568" y="166" width="6" height="4" fill="#FF69B4"/><rect x="569" y="165" width="4" height="6" fill="#FF69B4"/><rect x="576" y="161" width="6" height="4" fill="#FF69B4"/><rect x="577" y="160" width="4" height="6" fill="#FF69B4"/><rect x="584" y="157" width="6" height="4" fill="#FF69B4"/><rect x="585" y="156" width="4" height="6" fill="#FF69B4"/><rect x="592" y="154" width="6" height="4" fill="#FF69B4"/><rect x="593" y="153" width="4" height="6" fill="#FF69B4"/><rect x="600" y="152" width="6" height="4" fill="#FF69B4"/><rect x="601" y="151" width="4" height="6" fill="#FF69B4"/><rect x="608" y="150" width="6" height="4" fill="#FF69B4"/><rect x="609" y="149" width="4" height="6" fill="#FF69B4"/><rect x="616" y="145" width="6" height="4" fill="#FF69B4"/><rect x="617" y="144" width="4" height="6" fill="#FF69B4"/><rect x="624" y="138" width="6" height="4" fill="#FF69B4"/><rect x="625" y="137" width="4" height="6" fill="#FF69B4"/><rect x="632" y="128" width="6" height="4" fill="#FF69B4"/><rect x="633" y="127" width="4" height="6" fill="#FF69B4"/><rect x="640" y="120" width="6" height="4" fill="#FF69B4"/><rect x="641" y="119" width="4" height="6" fill="#FF69B4"/><rect x="648" y="114" width="6" height="4" fill="#FF69B4"/><rect x="649" y="113" width="4" height="6" fill="#FF69B4"/><rect x="656" y="108" width="6" height="4" fill="#FF69B4"/><rect x="657" y="107" width="4" height="6" fill="#FF69B4"/><rect x="664" y="104" width="6" height="4" fill="#FF69B4"/><rect x="665" y="103" width="4" height="6" fill="#FF69B4"/><rect x="672" y="102" width="6" height="4" fill="#FF69B4"/><rect x="673" y="101" width="4" height="6" fill="#FF69B4"/><rect x="680" y="100" width="6" height="4" fill="#FF69B4"/><rect x="681" y="99" width="4" height="6" fill="#FF69B4"/><rect x="688" y="99" width="6" height="4" fill="#FF69B4"/><rect x="689" y="98" width="4" height="6" fill="#FF69B4"/><rect x="696" y="96" width="6" height="4" fill="#FF69B4"/><rect x="697" y="95" width="4" height="6" fill="#FF69B4"/><rect x="704" y="93" width="6" height="4" fill="#FF69B4"/><rect x="705" y="92" width="4" height="6" fill="#FF69B4"/></g>
<g clip-path="url(#cm)"><path d="M19.0,166.5 L27.0,166.5 L35.0,167.5 L43.0,168.5 L51.0,168.5 L59.0,170.5 L67.0,170.5 L75.0,170.5 L83.0,171.5 L91.0,174.5 L99.0,179.5 L107.0,186.5 L115.0,190.5 L123.0,194.5 L131.0,199.5 L139.0,208.5 L147.0,219.5 L155.0,228.5 L163.0,236.5 L171.0,243.5 L179.0,248.5 L187.0,252.5 L195.0,253.5" fill="none" stroke="#FFB6C1" stroke-width="1" shape-rendering="crispEdges"/><path d="M403.0,141.5 L411.0,141.5 L419.0,141.5 L427.0,141.5 L435.0,141.5 L443.0,141.5" fill="none" stroke="#FFB6C1" stroke-width="1" shape-rendering="crispEdges"/><path d="M483.0,141.5 L491.0,141.5" fill="none" stroke="#FFB6C1" stroke-width="1" shape-rendering="crispEdges"/><path d="M723.0,47.5 L731.0,47.5 L739.0,47.5 L747.0,47.5 L755.0,48.5 L763.0,51.5 L771.0,51.5 L779.0,55.5 L787.0,56.5 L795.0,56.5 L803.0,58.5 L811.0,62.5 L819.0,63.5 L827.0,68.5 L835.0,76.5 L843.0,81.5 L851.0,85.5 L859.0,90.5 L867.0,94.5 L875.0,97.5 L883.0,100.5 L891.0,106.5 L899.0,114.5 L907.0,119.5 L915.0,128.5 L923.0,142.5 L931.0,151.5 L939.0,159.5 L947.0,167.5 L955.0,175.5" fill="none" stroke="#FFB6C1" stroke-width="1" shape-rendering="crispEdges"/><path d="M211.0,325.5 L219.0,325.5 L227.0,325.5 L235.0,325.5 L243.0,325.5 L251.0,325.5 L259.0,325.5 L267.0,322.5 L275.0,315.5 L283.0,306.5 L291.0,298.5 L299.0,292.5 L307.0,281.5 L315.0,266.5 L323.0,254.5 L331.0,242.5 L339.0,231.5 L347.0,221.5 L355.0,210.5 L363.0,201.5 L371.0,193.5 L379.0,186.5 L387.0,181.5" fill="none" stroke="#FF69B4" stroke-width="1" shape-rendering="crispEdges"/><path d="M459.0,183.5 L467.0,183.5" fill="none" stroke="#FF69B4" stroke-width="1" shape-rendering="crispEdges"/><path d="M507.0,186.5 L515.0,186.5 L523.0,186.5 L531.0,186.5 L539.0,186.5 L547.0,186.5 L555.0,182.5 L563.0,176.5 L571.0,168.5 L579.0,163.5 L587.0,159.5 L595.0,156.5 L603.0,154.5 L611.0,152.5 L619.0,147.5 L627.0,140.5 L635.0,130.5 L643.0,122.5 L651.0,116.5 L659.0,110.5 L667.0,106.5 L675.0,104.5 L683.0,102.5 L691.0,101.5 L699.0,98.5 L707.0,95.5" fill="none" stroke="#FF69B4" stroke-width="1" shape-rendering="crispEdges"/><polygon points="10.5,179.0 24.0,165.5 24.0,156.5 14.0,166.5 14.0,146.0 7.0,146.0 7.0,166.5 -3.0,156.5 -3.0,165.5" fill="#FFB6C1"/><polygon points="394.5,154.0 408.0,140.5 408.0,131.5 398.0,141.5 398.0,121.0 391.0,121.0 391.0,141.5 381.0,131.5 381.0,140.5" fill="#FFB6C1"/><polygon points="474.5,154.0 488.0,140.5 488.0,131.5 478.0,141.5 478.0,121.0 471.0,121.0 471.0,141.5 461.0,131.5 461.0,140.5" fill="#FFB6C1"/><polygon points="714.5,60.0 728.0,46.5 728.0,37.5 718.0,47.5 718.0,27.0 711.0,27.0 711.0,47.5 701.0,37.5 701.0,46.5" fill="#FFB6C1"/><polygon points="202.5,312.0 216.0,325.5 216.0,334.5 206.0,324.5 206.0,345.0 199.0,345.0 199.0,324.5 189.0,334.5 189.0,325.5" fill="#FF69B4"/><polygon points="450.5,169.0 464.0,182.5 464.0,191.5 454.0,181.5 454.0,202.0 447.0,202.0 447.0,181.5 437.0,191.5 437.0,182.5" fill="#FF69B4"/><polygon points="498.5,172.0 512.0,185.5 512.0,194.5 502.0,184.5 502.0,205.0 495.0,205.0 495.0,184.5 485.0,194.5 485.0,185.5" fill="#FF69B4"/></g>
<g clip-path="url(#c1)" shape-rendering="crispEdges"><rect x="1" y="406" width="5" height="4" fill="#FF69B4"/><rect x="0" y="412" width="7" height="1" fill="#FFB6C1"/><rect x="9" y="410" width="5" height="10" fill="#FFB6C1"/><rect x="8" y="412" width="7" height="8" fill="#FFB6C1"/><rect x="17" y="410" width="5" height="24" fill="#FFB6C1"/><rect x="16" y="412" width="7" height="22" fill="#FFB6C1"/><rect x="25" y="410" width="5" height="26" fill="#FFB6C1"/><rect x="24" y="412" width="7" height="24" fill="#FFB6C1"/><rect x="33" y="410" width="5" height="38" fill="#FFB6C1"/><rect x="32" y="412" width="7" height="36" fill="#FFB6C1"/><rect x="41" y="410" width="5" height="32" fill="#FFB6C1"/><rect x="40" y="412" width="7" height="29" fill="#FFB6C1"/><rect x="49" y="410" width="5" height="24" fill="#FFB6C1"/><rect x="48" y="412" width="7" height="18" fill="#FFB6C1"/><rect x="57" y="410" width="5" height="18" fill="#FFB6C1"/><rect x="56" y="412" width="7" height="13" fill="#FFB6C1"/><rect x="65" y="410" width="5" height="30" fill="#FFB6C1"/><rect x="64" y="412" width="7" height="28" fill="#FFB6C1"/><rect x="73" y="410" width="5" height="40" fill="#FFB6C1"/><rect x="72" y="412" width="7" height="38" fill="#FFB6C1"/><rect x="81" y="410" width="5" height="39" fill="#FFB6C1"/><rect x="80" y="412" width="7" height="37" fill="#FFB6C1"/><rect x="89" y="410" width="5" height="45" fill="#FFB6C1"/><rect x="88" y="412" width="7" height="43" fill="#FFB6C1"/><rect x="97" y="410" width="5" height="42" fill="#FFB6C1"/><rect x="96" y="412" width="7" height="37" fill="#FFB6C1"/><rect x="105" y="410" width="5" height="44" fill="#FFB6C1"/><rect x="104" y="412" width="7" height="41" fill="#FFB6C1"/><rect x="113" y="410" width="5" height="47" fill="#FFB6C1"/><rect x="112" y="412" width="7" height="45" fill="#FFB6C1"/><rect x="121" y="410" width="5" height="43" fill="#FFB6C1"/><rect x="120" y="412" width="7" height="37" fill="#FFB6C1"/><rect x="129" y="410" width="5" height="42" fill="#FFB6C1"/><rect x="128" y="412" width="7" height="38" fill="#FFB6C1"/><rect x="137" y="410" width="5" height="33" fill="#FFB6C1"/><rect x="136" y="412" width="7" height="25" fill="#FFB6C1"/><rect x="145" y="410" width="5" height="29" fill="#FFB6C1"/><rect x="144" y="412" width="7" height="25" fill="#FFB6C1"/><rect x="153" y="410" width="5" height="38" fill="#FFB6C1"/><rect x="152" y="412" width="7" height="36" fill="#FFB6C1"/><rect x="161" y="410" width="5" height="38" fill="#FFB6C1"/><rect x="160" y="412" width="7" height="36" fill="#FFB6C1"/><rect x="169" y="410" width="5" height="31" fill="#FFB6C1"/><rect x="168" y="412" width="7" height="24" fill="#FFB6C1"/><rect x="177" y="410" width="5" height="25" fill="#FFB6C1"/><rect x="176" y="412" width="7" height="18" fill="#FFB6C1"/><rect x="185" y="410" width="5" height="19" fill="#FFB6C1"/><rect x="184" y="412" width="7" height="14" fill="#FFB6C1"/><rect x="193" y="410" width="5" height="14" fill="#FFB6C1"/><rect x="192" y="412" width="7" height="8" fill="#FFB6C1"/><rect x="201" y="410" width="5" height="9" fill="#FFB6C1"/><rect x="200" y="412" width="7" height="7" fill="#FFB6C1"/><rect x="209" y="410" width="5" height="4" fill="#FFB6C1"/><rect x="208" y="404" width="7" height="8" fill="#FF69B4"/><rect x="217" y="395" width="5" height="15" fill="#FF69B4"/><rect x="216" y="395" width="7" height="17" fill="#FF69B4"/><rect x="225" y="386" width="5" height="24" fill="#FF69B4"/><rect x="224" y="386" width="7" height="26" fill="#FF69B4"/><rect x="233" y="377" width="5" height="33" fill="#FF69B4"/><rect x="232" y="377" width="7" height="35" fill="#FF69B4"/><rect x="241" y="379" width="5" height="31" fill="#FF69B4"/><rect x="240" y="379" width="7" height="33" fill="#FF69B4"/><rect x="249" y="369" width="5" height="41" fill="#FF69B4"/><rect x="248" y="369" width="7" height="43" fill="#FF69B4"/><rect x="257" y="375" width="5" height="35" fill="#FF69B4"/><rect x="256" y="379" width="7" height="33" fill="#FF69B4"/><rect x="265" y="373" width="5" height="37" fill="#FF69B4"/><rect x="264" y="377" width="7" height="35" fill="#FF69B4"/><rect x="273" y="373" width="5" height="37" fill="#FF69B4"/><rect x="272" y="378" width="7" height="34" fill="#FF69B4"/><rect x="281" y="374" width="5" height="36" fill="#FF69B4"/><rect x="280" y="379" width="7" height="33" fill="#FF69B4"/><rect x="289" y="376" width="5" height="34" fill="#FF69B4"/><rect x="288" y="383" width="7" height="29" fill="#FF69B4"/><rect x="297" y="376" width="5" height="34" fill="#FF69B4"/><rect x="296" y="381" width="7" height="31" fill="#FF69B4"/><rect x="305" y="372" width="5" height="38" fill="#FF69B4"/><rect x="304" y="375" width="7" height="37" fill="#FF69B4"/><rect x="313" y="370" width="5" height="40" fill="#FF69B4"/><rect x="312" y="374" width="7" height="38" fill="#FF69B4"/><rect x="321" y="377" width="5" height="33" fill="#FF69B4"/><rect x="320" y="386" width="7" height="26" fill="#FF69B4"/><rect x="329" y="379" width="5" height="31" fill="#FF69B4"/><rect x="328" y="385" width="7" height="27" fill="#FF69B4"/><rect x="337" y="372" width="5" height="38" fill="#FF69B4"/><rect x="336" y="372" width="7" height="40" fill="#FF69B4"/><rect x="345" y="364" width="5" height="46" fill="#FF69B4"/><rect x="344" y="364" width="7" height="48" fill="#FF69B4"/><rect x="353" y="367" width="5" height="43" fill="#FF69B4"/><rect x="352" y="374" width="7" height="38" fill="#FF69B4"/><rect x="361" y="373" width="5" height="37" fill="#FF69B4"/><rect x="360" y="384" width="7" height="28" fill="#FF69B4"/><rect x="369" y="379" width="5" height="31" fill="#FF69B4"/><rect x="368" y="390" width="7" height="22" fill="#FF69B4"/><rect x="377" y="380" width="5" height="30" fill="#FF69B4"/><rect x="376" y="388" width="7" height="24" fill="#FF69B4"/><rect x="385" y="386" width="5" height="24" fill="#FF69B4"/><rect x="384" y="398" width="7" height="14" fill="#FF69B4"/><rect x="393" y="390" width="5" height="20" fill="#FF69B4"/><rect x="392" y="403" width="7" height="9" fill="#FF69B4"/><rect x="401" y="397" width="5" height="13" fill="#FF69B4"/><rect x="400" y="412" width="7" height="1" fill="#FFB6C1"/><rect x="409" y="403" width="5" height="7" fill="#FF69B4"/><rect x="408" y="412" width="7" height="12" fill="#FFB6C1"/><rect x="417" y="406" width="5" height="4" fill="#FF69B4"/><rect x="416" y="412" width="7" height="17" fill="#FFB6C1"/><rect x="425" y="405" width="5" height="5" fill="#FF69B4"/><rect x="424" y="412" width="7" height="12" fill="#FFB6C1"/><rect x="433" y="403" width="5" height="7" fill="#FF69B4"/><rect x="432" y="412" width="7" height="5" fill="#FFB6C1"/><rect x="441" y="399" width="5" height="11" fill="#FF69B4"/><rect x="440" y="410" width="7" height="2" fill="#FF69B4"/><rect x="449" y="396" width="5" height="14" fill="#FF69B4"/><rect x="448" y="403" width="7" height="9" fill="#FF69B4"/><rect x="457" y="395" width="5" height="15" fill="#FF69B4"/><rect x="456" y="401" width="7" height="11" fill="#FF69B4"/><rect x="465" y="401" width="5" height="9" fill="#FF69B4"/><rect x="464" y="409" width="7" height="3" fill="#FF69B4"/><rect x="473" y="410" width="5" height="1" fill="#FFB6C1"/><rect x="472" y="412" width="7" height="8" fill="#FFB6C1"/><rect x="481" y="409" width="5" height="1" fill="#FF69B4"/><rect x="480" y="412" width="7" height="8" fill="#FFB6C1"/><rect x="489" y="409" width="5" height="1" fill="#FF69B4"/><rect x="488" y="409" width="7" height="3" fill="#FF69B4"/><rect x="497" y="403" width="5" height="7" fill="#FF69B4"/><rect x="496" y="403" width="7" height="9" fill="#FF69B4"/><rect x="505" y="390" width="5" height="20" fill="#FF69B4"/><rect x="504" y="390" width="7" height="22" fill="#FF69B4"/><rect x="513" y="377" width="5" height="33" fill="#FF69B4"/><rect x="512" y="377" width="7" height="35" fill="#FF69B4"/><rect x="521" y="373" width="5" height="37" fill="#FF69B4"/><rect x="520" y="373" width="7" height="39" fill="#FF69B4"/><rect x="529" y="376" width="5" height="34" fill="#FF69B4"/><rect x="528" y="382" width="7" height="30" fill="#FF69B4"/><rect x="537" y="380" width="5" height="30" fill="#FF69B4"/><rect x="536" y="386" width="7" height="26" fill="#FF69B4"/><rect x="545" y="387" width="5" height="23" fill="#FF69B4"/><rect x="544" y="394" width="7" height="18" fill="#FF69B4"/><rect x="553" y="393" width="5" height="17" fill="#FF69B4"/><rect x="552" y="401" width="7" height="11" fill="#FF69B4"/><rect x="561" y="397" width="5" height="13" fill="#FF69B4"/><rect x="560" y="402" width="7" height="10" fill="#FF69B4"/><rect x="569" y="394" width="5" height="16" fill="#FF69B4"/><rect x="568" y="396" width="7" height="16" fill="#FF69B4"/><rect x="577" y="385" width="5" height="25" fill="#FF69B4"/><rect x="576" y="385" width="7" height="27" fill="#FF69B4"/><rect x="585" y="375" width="5" height="35" fill="#FF69B4"/><rect x="584" y="375" width="7" height="37" fill="#FF69B4"/><rect x="593" y="376" width="5" height="34" fill="#FF69B4"/><rect x="592" y="380" width="7" height="32" fill="#FF69B4"/><rect x="601" y="376" width="5" height="34" fill="#FF69B4"/><rect x="600" y="382" width="7" height="30" fill="#FF69B4"/><rect x="609" y="377" width="5" height="33" fill="#FF69B4"/><rect x="608" y="382" width="7" height="30" fill="#FF69B4"/><rect x="617" y="379" width="5" height="31" fill="#FF69B4"/><rect x="616" y="387" width="7" height="25" fill="#FF69B4"/><rect x="625" y="379" width="5" height="31" fill="#FF69B4"/><rect x="624" y="390" width="7" height="22" fill="#FF69B4"/><rect x="633" y="384" width="5" height="26" fill="#FF69B4"/><rect x="632" y="394" width="7" height="18" fill="#FF69B4"/><rect x="641" y="387" width="5" height="23" fill="#FF69B4"/><rect x="640" y="397" width="7" height="15" fill="#FF69B4"/><rect x="649" y="384" width="5" height="26" fill="#FF69B4"/><rect x="648" y="386" width="7" height="26" fill="#FF69B4"/><rect x="657" y="384" width="5" height="26" fill="#FF69B4"/><rect x="656" y="388" width="7" height="24" fill="#FF69B4"/><rect x="665" y="384" width="5" height="26" fill="#FF69B4"/><rect x="664" y="388" width="7" height="24" fill="#FF69B4"/><rect x="673" y="375" width="5" height="35" fill="#FF69B4"/><rect x="672" y="375" width="7" height="37" fill="#FF69B4"/><rect x="681" y="376" width="5" height="34" fill="#FF69B4"/><rect x="680" y="384" width="7" height="28" fill="#FF69B4"/><rect x="689" y="386" width="5" height="24" fill="#FF69B4"/><rect x="688" y="397" width="7" height="15" fill="#FF69B4"/><rect x="697" y="392" width="5" height="18" fill="#FF69B4"/><rect x="696" y="406" width="7" height="6" fill="#FF69B4"/><rect x="705" y="397" width="5" height="13" fill="#FF69B4"/><rect x="704" y="409" width="7" height="3" fill="#FF69B4"/><rect x="713" y="402" width="5" height="8" fill="#FF69B4"/><rect x="712" y="412" width="7" height="5" fill="#FFB6C1"/><rect x="721" y="410" width="5" height="2" fill="#FFB6C1"/><rect x="720" y="412" width="7" height="14" fill="#FFB6C1"/><rect x="729" y="410" width="5" height="2" fill="#FFB6C1"/><rect x="728" y="412" width="7" height="14" fill="#FFB6C1"/><rect x="737" y="410" width="5" height="7" fill="#FFB6C1"/><rect x="736" y="412" width="7" height="5" fill="#FFB6C1"/><rect x="745" y="410" width="5" height="8" fill="#FFB6C1"/><rect x="744" y="412" width="7" height="6" fill="#FFB6C1"/><rect x="753" y="410" width="5" height="9" fill="#FFB6C1"/><rect x="752" y="412" width="7" height="7" fill="#FFB6C1"/><rect x="761" y="410" width="5" height="7" fill="#FFB6C1"/><rect x="760" y="412" width="7" height="5" fill="#FFB6C1"/><rect x="769" y="410" width="5" height="7" fill="#FFB6C1"/><rect x="768" y="412" width="7" height="5" fill="#FFB6C1"/><rect x="777" y="410" width="5" height="19" fill="#FFB6C1"/><rect x="776" y="412" width="7" height="17" fill="#FFB6C1"/><rect x="785" y="410" width="5" height="26" fill="#FFB6C1"/><rect x="784" y="412" width="7" height="24" fill="#FFB6C1"/><rect x="793" y="410" width="5" height="35" fill="#FFB6C1"/><rect x="792" y="412" width="7" height="33" fill="#FFB6C1"/><rect x="801" y="410" width="5" height="37" fill="#FFB6C1"/><rect x="800" y="412" width="7" height="35" fill="#FFB6C1"/><rect x="809" y="410" width="5" height="36" fill="#FFB6C1"/><rect x="808" y="412" width="7" height="34" fill="#FFB6C1"/><rect x="817" y="410" width="5" height="40" fill="#FFB6C1"/><rect x="816" y="412" width="7" height="38" fill="#FFB6C1"/><rect x="825" y="410" width="5" height="41" fill="#FFB6C1"/><rect x="824" y="412" width="7" height="39" fill="#FFB6C1"/><rect x="833" y="410" width="5" height="40" fill="#FFB6C1"/><rect x="832" y="412" width="7" height="37" fill="#FFB6C1"/><rect x="841" y="410" width="5" height="46" fill="#FFB6C1"/><rect x="840" y="412" width="7" height="44" fill="#FFB6C1"/><rect x="849" y="410" width="5" height="42" fill="#FFB6C1"/><rect x="848" y="412" width="7" height="39" fill="#FFB6C1"/><rect x="857" y="410" width="5" height="42" fill="#FFB6C1"/><rect x="856" y="412" width="7" height="40" fill="#FFB6C1"/><rect x="865" y="410" width="5" height="34" fill="#FFB6C1"/><rect x="864" y="412" width="7" height="28" fill="#FFB6C1"/><rect x="873" y="410" width="5" height="32" fill="#FFB6C1"/><rect x="872" y="412" width="7" height="29" fill="#FFB6C1"/><rect x="881" y="410" width="5" height="38" fill="#FFB6C1"/><rect x="880" y="412" width="7" height="36" fill="#FFB6C1"/><rect x="889" y="410" width="5" height="40" fill="#FFB6C1"/><rect x="888" y="412" width="7" height="34" fill="#FFB6C1"/><rect x="897" y="410" width="5" height="36" fill="#FFB6C1"/><rect x="896" y="412" width="7" height="28" fill="#FFB6C1"/><rect x="905" y="410" width="5" height="31" fill="#FFB6C1"/><rect x="904" y="412" width="7" height="20" fill="#FFB6C1"/><rect x="913" y="410" width="5" height="29" fill="#FFB6C1"/><rect x="912" y="412" width="7" height="23" fill="#FFB6C1"/><rect x="921" y="410" width="5" height="26" fill="#FFB6C1"/><rect x="920" y="412" width="7" height="22" fill="#FFB6C1"/><rect x="929" y="410" width="5" height="26" fill="#FFB6C1"/><rect x="928" y="412" width="7" height="24" fill="#FFB6C1"/><rect x="937" y="410" width="5" height="21" fill="#FFB6C1"/><rect x="936" y="412" width="7" height="15" fill="#FFB6C1"/><rect x="945" y="410" width="5" height="17" fill="#FFB6C1"/><rect x="944" y="412" width="7" height="12" fill="#FFB6C1"/><rect x="953" y="410" width="5" height="25" fill="#FFB6C1"/><rect x="952" y="412" width="7" height="23" fill="#FFB6C1"/></g>
<g clip-path="url(#c2)" shape-rendering="crispEdges"><path d="M3.5,506.50 L11.5,508.25 L19.5,512.00 L27.5,516.00 L35.5,519.00 L43.5,523.00 L51.5,524.00 L59.5,524.50 L67.5,525.75 L75.5,527.00 L83.5,528.25 L91.5,529.50 L99.5,531.30 L107.5,533.25 L115.5,535.75 L123.5,538.60 L131.5,539.80 L139.5,539.30 L147.5,538.30 L155.5,536.80 L163.5,535.60 L171.5,533.10 L179.5,528.70 L187.5,523.70 L195.5,517.50 L203.5,512.50 L211.5,507.80 L219.5,500.00 L227.5,494.75 L235.5,489.60 L243.5,485.00 L251.5,481.00 L259.5,477.00 L267.5,473.50 L275.5,472.40 L283.5,471.30 L291.5,471.20 L299.5,470.30 L307.5,470.30 L315.5,470.50 L323.5,473.50 L331.5,476.50 L339.5,478.90 L347.5,481.50 L355.5,483.70 L363.5,487.20 L371.5,490.20 L379.5,493.10 L387.5,496.50 L395.5,500.00 L403.5,506.50 L411.5,513.25 L419.5,517.50 L427.5,519.80 L435.5,519.80 L443.5,518.60 L451.5,515.50 L459.5,512.80 L467.5,511.00 L475.5,510.40 L483.5,510.80 L491.5,510.10 L499.5,508.90 L507.5,506.50 L515.5,502.00 L523.5,497.00 L531.5,493.00 L539.5,492.00 L547.5,492.10 L555.5,493.70 L563.5,494.90 L571.5,495.50 L579.5,495.50 L587.5,494.20 L595.5,492.10 L603.5,489.50 L611.5,488.40 L619.5,486.50 L627.5,485.30 L635.5,486.20 L643.5,487.60 L651.5,487.30 L659.5,489.20 L667.5,490.40 L675.5,491.30 L683.5,492.60 L691.5,494.90 L699.5,498.70 L707.5,502.40 L715.5,507.30 L723.5,512.50 L731.5,517.50 L739.5,519.60 L747.5,520.25 L755.5,520.25 L763.5,519.50 L771.5,518.25 L779.5,517.50 L787.5,517.50 L795.5,519.50 L803.5,521.50 L811.5,524.00 L819.5,527.00 L827.5,529.50 L835.5,532.50 L843.5,535.75 L851.5,539.30 L859.5,540.25 L867.5,540.75 L875.5,539.60 L883.5,538.25 L891.5,537.00 L899.5,534.50 L907.5,532.10 L915.5,529.50 L923.5,526.50 L931.5,524.00 L939.5,520.50 L947.5,516.50 L955.5,514.50" fill="none" stroke="#BA55D3" stroke-width="3" stroke-linejoin="round"/><rect x="0" y="508" width="7" height="2" fill="#FFB6C1"/><rect x="8" y="508" width="7" height="3" fill="#FFB6C1"/><rect x="16" y="508" width="7" height="6" fill="#FFB6C1"/><rect x="24" y="508" width="7" height="9" fill="#FFB6C1"/><rect x="32" y="508" width="7" height="13" fill="#FFB6C1"/><rect x="40" y="508" width="7" height="15" fill="#FFB6C1"/><rect x="48" y="508" width="7" height="14" fill="#FF69B4"/><rect x="56" y="508" width="7" height="14" fill="#FF69B4"/><rect x="64" y="508" width="7" height="15" fill="#FFB6C1"/><rect x="72" y="508" width="7" height="16" fill="#FFB6C1"/><rect x="80" y="508" width="7" height="17" fill="#FFB6C1"/><rect x="88" y="508" width="7" height="19" fill="#FFB6C1"/><rect x="96" y="508" width="7" height="23" fill="#FFB6C1"/><rect x="104" y="508" width="7" height="24" fill="#FFB6C1"/><rect x="112" y="508" width="7" height="27" fill="#FFB6C1"/><rect x="120" y="508" width="7" height="30" fill="#FFB6C1"/><rect x="128" y="508" width="7" height="30" fill="#FFB6C1"/><rect x="136" y="508" width="7" height="28" fill="#FF69B4"/><rect x="144" y="508" width="7" height="25" fill="#FF69B4"/><rect x="152" y="508" width="7" height="24" fill="#FF69B4"/><rect x="160" y="508" width="7" height="21" fill="#FF69B4"/><rect x="168" y="508" width="7" height="17" fill="#FF69B4"/><rect x="176" y="508" width="7" height="12" fill="#FF69B4"/><rect x="184" y="508" width="7" height="7" fill="#FF69B4"/><rect x="192" y="508" width="7" height="2" fill="#FF69B4"/><rect x="200" y="503" width="7" height="5" fill="#FF69B4"/><rect x="208" y="498" width="7" height="10" fill="#FF69B4"/><rect x="216" y="493" width="7" height="15" fill="#FF69B4"/><rect x="224" y="488" width="7" height="20" fill="#FF69B4"/><rect x="232" y="484" width="7" height="24" fill="#FF69B4"/><rect x="240" y="480" width="7" height="28" fill="#FF69B4"/><rect x="248" y="476" width="7" height="32" fill="#FF69B4"/><rect x="256" y="473" width="7" height="35" fill="#FF69B4"/><rect x="264" y="473" width="7" height="35" fill="#FFB6C1"/><rect x="272" y="474" width="7" height="34" fill="#FFB6C1"/><rect x="280" y="478" width="7" height="30" fill="#FFB6C1"/><rect x="288" y="482" width="7" height="26" fill="#FFB6C1"/><rect x="296" y="484" width="7" height="24" fill="#FFB6C1"/><rect x="304" y="486" width="7" height="22" fill="#FFB6C1"/><rect x="312" y="488" width="7" height="20" fill="#FFB6C1"/><rect x="320" y="492" width="7" height="16" fill="#FFB6C1"/><rect x="328" y="494" width="7" height="14" fill="#FFB6C1"/><rect x="336" y="496" width="7" height="12" fill="#FFB6C1"/><rect x="344" y="496" width="7" height="12" fill="#FFB6C1"/><rect x="352" y="497" width="7" height="11" fill="#FFB6C1"/><rect x="360" y="499" width="7" height="9" fill="#FFB6C1"/><rect x="368" y="501" width="7" height="7" fill="#FFB6C1"/><rect x="376" y="503" width="7" height="5" fill="#FFB6C1"/><rect x="384" y="505" width="7" height="3" fill="#FFB6C1"/><rect x="392" y="508" width="7" height="2" fill="#FFB6C1"/><rect x="400" y="508" width="7" height="5" fill="#FFB6C1"/><rect x="408" y="508" width="7" height="9" fill="#FFB6C1"/><rect x="416" y="508" width="7" height="11" fill="#FFB6C1"/><rect x="424" y="508" width="7" height="11" fill="#FFB6C1"/><rect x="432" y="508" width="7" height="10" fill="#FF69B4"/><rect x="440" y="508" width="7" height="8" fill="#FF69B4"/><rect x="448" y="508" width="7" height="4" fill="#FF69B4"/><rect x="456" y="508" width="7" height="2" fill="#FF69B4"/><rect x="464" y="508" width="7" height="1" fill="#FF69B4"/><rect x="472" y="508" width="7" height="1" fill="#FFB6C1"/><rect x="480" y="508" width="7" height="2" fill="#FF69B4"/><rect x="488" y="508" width="7" height="2" fill="#FFB6C1"/><rect x="496" y="506" width="7" height="2" fill="#FF69B4"/><rect x="504" y="503" width="7" height="5" fill="#FF69B4"/><rect x="512" y="500" width="7" height="8" fill="#FF69B4"/><rect x="520" y="496" width="7" height="12" fill="#FF69B4"/><rect x="528" y="493" width="7" height="15" fill="#FF69B4"/><rect x="536" y="491" width="7" height="17" fill="#FF69B4"/><rect x="544" y="492" width="7" height="16" fill="#FFB6C1"/><rect x="552" y="494" width="7" height="14" fill="#FFB6C1"/><rect x="560" y="496" width="7" height="12" fill="#FFB6C1"/><rect x="568" y="497" width="7" height="11" fill="#FFB6C1"/><rect x="576" y="496" width="7" height="12" fill="#FF69B4"/><rect x="584" y="496" width="7" height="12" fill="#FF69B4"/><rect x="592" y="494" width="7" height="14" fill="#FF69B4"/><rect x="600" y="492" width="7" height="16" fill="#FF69B4"/><rect x="608" y="491" width="7" height="17" fill="#FF69B4"/><rect x="616" y="491" width="7" height="17" fill="#FF69B4"/><rect x="624" y="492" width="7" height="16" fill="#FFB6C1"/><rect x="632" y="495" width="7" height="13" fill="#FFB6C1"/><rect x="640" y="497" width="7" height="11" fill="#FFB6C1"/><rect x="648" y="498" width="7" height="10" fill="#FFB6C1"/><rect x="656" y="500" width="7" height="8" fill="#FFB6C1"/><rect x="664" y="501" width="7" height="7" fill="#FFB6C1"/><rect x="672" y="501" width="7" height="7" fill="#FF69B4"/><rect x="680" y="502" width="7" height="6" fill="#FFB6C1"/><rect x="688" y="503" width="7" height="5" fill="#FFB6C1"/><rect x="696" y="506" width="7" height="2" fill="#FFB6C1"/><rect x="704" y="508" width="7" height="2" fill="#FFB6C1"/><rect x="712" y="508" width="7" height="5" fill="#FFB6C1"/><rect x="720" y="508" width="7" height="9" fill="#FFB6C1"/><rect x="728" y="508" width="7" height="11" fill="#FFB6C1"/><rect x="736" y="508" width="7" height="12" fill="#FFB6C1"/><rect x="744" y="508" width="7" height="12" fill="#FFB6C1"/><rect x="752" y="508" width="7" height="11" fill="#FF69B4"/><rect x="760" y="508" width="7" height="9" fill="#FF69B4"/><rect x="768" y="508" width="7" height="7" fill="#FF69B4"/><rect x="776" y="508" width="7" height="7" fill="#FF69B4"/><rect x="784" y="508" width="7" height="8" fill="#FFB6C1"/><rect x="792" y="508" width="7" height="9" fill="#FFB6C1"/><rect x="800" y="508" width="7" height="11" fill="#FFB6C1"/><rect x="808" y="508" width="7" height="14" fill="#FFB6C1"/><rect x="816" y="508" width="7" height="17" fill="#FFB6C1"/><rect x="824" y="508" width="7" height="21" fill="#FFB6C1"/><rect x="832" y="508" width="7" height="23" fill="#FFB6C1"/><rect x="840" y="508" width="7" height="27" fill="#FFB6C1"/><rect x="848" y="508" width="7" height="31" fill="#FFB6C1"/><rect x="856" y="508" width="7" height="31" fill="#FFB6C1"/><rect x="864" y="508" width="7" height="29" fill="#FF69B4"/><rect x="872" y="508" width="7" height="27" fill="#FF69B4"/><rect x="880" y="508" width="7" height="25" fill="#FF69B4"/><rect x="888" y="508" width="7" height="22" fill="#FF69B4"/><rect x="896" y="508" width="7" height="18" fill="#FF69B4"/><rect x="904" y="508" width="7" height="15" fill="#FF69B4"/><rect x="912" y="508" width="7" height="11" fill="#FF69B4"/><rect x="920" y="508" width="7" height="9" fill="#FF69B4"/><rect x="928" y="508" width="7" height="6" fill="#FF69B4"/><rect x="936" y="508" width="7" height="3" fill="#FF69B4"/><rect x="944" y="508" width="7" height="1" fill="#FF69B4"/><rect x="952" y="508" width="7" height="1" fill="#FFB6C1"/><line x1="4" y1="486.5" x2="980" y2="486.5" stroke="#C0C0C0" stroke-width="1" stroke-dasharray="3 3"/><line x1="4" y1="508.5" x2="980" y2="508.5" stroke="#C0C0C0" stroke-width="1" stroke-dasharray="3 3"/><line x1="4" y1="530.5" x2="980" y2="530.5" stroke="#C0C0C0" stroke-width="1" stroke-dasharray="3 3"/><line x1="4" y1="552.5" x2="980" y2="552.5" stroke="#C0C0C0" stroke-width="1" stroke-dasharray="3 3"/><rect x="445" y="536" width="1" height="1" fill="#FF00FF"/></g>
<g clip-path="url(#c3)" shape-rendering="crispEdges"><rect x="1" y="556" width="5" height="18" fill="#FF69B4"/><rect x="9" y="556" width="5" height="18" fill="#FF69B4"/><rect x="17" y="556" width="5" height="18" fill="#FF69B4"/><rect x="25" y="556" width="5" height="18" fill="#FF69B4"/><rect x="33" y="556" width="5" height="18" fill="#FF69B4"/><rect x="41" y="556" width="5" height="18" fill="#FF69B4"/><rect x="49" y="556" width="5" height="18" fill="#FF69B4"/><rect x="58" y="556" width="3" height="18" fill="#FF1493"/><rect x="65" y="556" width="5" height="18" fill="#FF69B4"/><rect x="73" y="556" width="5" height="18" fill="#FF69B4"/><rect x="82" y="556" width="3" height="18" fill="#FF1493"/><rect x="89" y="556" width="5" height="18" fill="#FFB6C1"/><rect x="97" y="556" width="5" height="18" fill="#FFB6C1"/><rect x="106" y="556" width="3" height="18" fill="#FF1493"/><rect x="113" y="556" width="5" height="18" fill="#FF69B4"/><rect x="121" y="556" width="5" height="18" fill="#FF69B4"/><rect x="129" y="556" width="5" height="18" fill="#FF69B4"/><rect x="137" y="556" width="5" height="18" fill="#FF69B4"/><rect x="145" y="556" width="5" height="18" fill="#FF69B4"/><rect x="153" y="556" width="5" height="18" fill="#FF69B4"/><rect x="161" y="556" width="5" height="18" fill="#FF69B4"/><rect x="169" y="556" width="5" height="18" fill="#FF69B4"/><rect x="178" y="556" width="3" height="18" fill="#FF1493"/><rect x="186" y="556" width="3" height="18" fill="#FF1493"/><rect x="194" y="556" width="3" height="18" fill="#FF1493"/><rect x="201" y="556" width="5" height="18" fill="#FFB6C1"/><rect x="210" y="556" width="3" height="18" fill="#FF1493"/><rect x="218" y="556" width="3" height="18" fill="#FF1493"/><rect x="225" y="556" width="5" height="18" fill="#FFB6C1"/><rect x="233" y="556" width="5" height="18" fill="#FFB6C1"/><rect x="241" y="556" width="5" height="18" fill="#FFB6C1"/><rect x="249" y="556" width="5" height="18" fill="#FFB6C1"/><rect x="257" y="556" width="5" height="18" fill="#FFB6C1"/><rect x="265" y="556" width="5" height="18" fill="#FFB6C1"/><rect x="273" y="556" width="5" height="18" fill="#FFB6C1"/><rect x="281" y="556" width="5" height="18" fill="#FFB6C1"/><rect x="289" y="556" width="5" height="18" fill="#FFB6C1"/><rect x="297" y="556" width="5" height="18" fill="#FFB6C1"/><rect x="305" y="556" width="5" height="18" fill="#FFB6C1"/><rect x="313" y="556" width="5" height="18" fill="#FFB6C1"/><rect x="321" y="556" width="5" height="18" fill="#FFB6C1"/><rect x="329" y="556" width="5" height="18" fill="#FFB6C1"/><rect x="338" y="556" width="3" height="18" fill="#FF1493"/><rect x="346" y="556" width="3" height="18" fill="#FF1493"/><rect x="354" y="556" width="3" height="18" fill="#FF1493"/><rect x="362" y="556" width="3" height="18" fill="#FF1493"/><rect x="369" y="556" width="5" height="18" fill="#FFB6C1"/><rect x="377" y="556" width="5" height="18" fill="#FFB6C1"/><rect x="385" y="556" width="5" height="18" fill="#FFB6C1"/><rect x="393" y="556" width="5" height="18" fill="#FFB6C1"/><rect x="401" y="556" width="5" height="18" fill="#FFB6C1"/><rect x="409" y="556" width="5" height="18" fill="#FFB6C1"/><rect x="417" y="556" width="5" height="18" fill="#FF69B4"/><rect x="425" y="556" width="5" height="18" fill="#FF69B4"/><rect x="433" y="556" width="5" height="18" fill="#FF69B4"/><rect x="441" y="556" width="5" height="18" fill="#FF69B4"/><rect x="449" y="556" width="5" height="18" fill="#FF69B4"/><rect x="457" y="556" width="5" height="18" fill="#FF69B4"/><rect x="465" y="556" width="5" height="18" fill="#FF69B4"/><rect x="473" y="556" width="5" height="18" fill="#FF69B4"/><rect x="481" y="556" width="5" height="18" fill="#FF69B4"/><rect x="489" y="556" width="5" height="18" fill="#FF69B4"/><rect x="497" y="556" width="5" height="18" fill="#FF69B4"/><rect x="505" y="556" width="5" height="18" fill="#FF69B4"/><rect x="513" y="556" width="5" height="18" fill="#FF69B4"/><rect x="521" y="556" width="5" height="18" fill="#FF69B4"/><rect x="529" y="556" width="5" height="18" fill="#FF69B4"/><rect x="537" y="556" width="5" height="18" fill="#FF69B4"/><rect x="545" y="556" width="5" height="18" fill="#FF69B4"/><rect x="553" y="556" width="5" height="18" fill="#FF69B4"/><rect x="561" y="556" width="5" height="18" fill="#FF69B4"/><rect x="570" y="556" width="3" height="18" fill="#FF1493"/><rect x="578" y="556" width="3" height="18" fill="#FF1493"/><rect x="586" y="556" width="3" height="18" fill="#FF1493"/><rect x="594" y="556" width="3" height="18" fill="#FF1493"/><rect x="602" y="556" width="3" height="18" fill="#FF1493"/><rect x="610" y="556" width="3" height="18" fill="#FF1493"/><rect x="618" y="556" width="3" height="18" fill="#FF1493"/><rect x="625" y="556" width="5" height="18" fill="#FFB6C1"/><rect x="633" y="556" width="5" height="18" fill="#FFB6C1"/><rect x="641" y="556" width="5" height="18" fill="#FFB6C1"/><rect x="649" y="556" width="5" height="18" fill="#FFB6C1"/><rect x="657" y="556" width="5" height="18" fill="#FFB6C1"/><rect x="665" y="556" width="5" height="18" fill="#FFB6C1"/><rect x="673" y="556" width="5" height="18" fill="#FFB6C1"/><rect x="681" y="556" width="5" height="18" fill="#FFB6C1"/><rect x="689" y="556" width="5" height="18" fill="#FFB6C1"/><rect x="697" y="556" width="5" height="18" fill="#FFB6C1"/><rect x="705" y="556" width="5" height="18" fill="#FFB6C1"/><rect x="713" y="556" width="5" height="18" fill="#FFB6C1"/><rect x="721" y="556" width="5" height="18" fill="#FFB6C1"/><rect x="729" y="556" width="5" height="18" fill="#FFB6C1"/><rect x="737" y="556" width="5" height="18" fill="#FFB6C1"/><rect x="746" y="556" width="3" height="18" fill="#FF1493"/><rect x="754" y="556" width="3" height="18" fill="#FF1493"/><rect x="761" y="556" width="5" height="18" fill="#FF69B4"/><rect x="769" y="556" width="5" height="18" fill="#FF69B4"/><rect x="777" y="556" width="5" height="18" fill="#FF69B4"/><rect x="785" y="556" width="5" height="18" fill="#FF69B4"/><rect x="793" y="556" width="5" height="18" fill="#FF69B4"/><rect x="801" y="556" width="5" height="18" fill="#FFB6C1"/><rect x="809" y="556" width="5" height="18" fill="#FFB6C1"/><rect x="817" y="556" width="5" height="18" fill="#FFB6C1"/><rect x="825" y="556" width="5" height="18" fill="#FFB6C1"/><rect x="833" y="556" width="5" height="18" fill="#FFB6C1"/><rect x="841" y="556" width="5" height="18" fill="#FFB6C1"/><rect x="849" y="556" width="5" height="18" fill="#FFB6C1"/><rect x="858" y="556" width="3" height="18" fill="#FF1493"/><rect x="866" y="556" width="3" height="18" fill="#FF1493"/><rect x="873" y="556" width="5" height="18" fill="#FFB6C1"/><rect x="881" y="556" width="5" height="18" fill="#FFB6C1"/><rect x="889" y="556" width="5" height="18" fill="#FFB6C1"/><rect x="897" y="556" width="5" height="18" fill="#FFB6C1"/><rect x="905" y="556" width="5" height="18" fill="#FFB6C1"/><rect x="914" y="556" width="3" height="18" fill="#FF1493"/><rect x="921" y="556" width="5" height="18" fill="#FF69B4"/><rect x="929" y="556" width="5" height="18" fill="#FF69B4"/><rect x="937" y="556" width="5" height="18" fill="#FF69B4"/><rect x="945" y="556" width="5" height="18" fill="#FF69B4"/><rect x="953" y="556" width="5" height="18" fill="#FF69B4"/></g>
<g shape-rendering="crispEdges"><rect x="2.5" y="2.5" width="978" height="354" fill="none" stroke="#000" stroke-width="1"/><rect x="2.5" y="358.5" width="978" height="103" fill="none" stroke="#000" stroke-width="1"/><rect x="2.5" y="463.5" width="978" height="90" fill="none" stroke="#000" stroke-width="1"/><rect x="2.5" y="555.5" width="978" height="20" fill="none" stroke="#000" stroke-width="1"/><rect x="981" y="34" width="2" height="1" fill="#000"/><rect x="981" y="66" width="2" height="1" fill="#000"/><rect x="981" y="98" width="2" height="1" fill="#000"/><rect x="981" y="130" width="2" height="1" fill="#000"/><rect x="981" y="162" width="2" height="1" fill="#000"/><rect x="981" y="194" width="2" height="1" fill="#000"/><rect x="981" y="226" width="2" height="1" fill="#000"/><rect x="981" y="258" width="2" height="1" fill="#000"/><rect x="981" y="290" width="2" height="1" fill="#000"/><rect x="981" y="322" width="2" height="1" fill="#000"/><rect x="981" y="354" width="2" height="1" fill="#000"/><rect x="983" y="196" width="35" height="11" fill="#000"/><rect x="981" y="360" width="1" height="1" fill="#000"/><rect x="981" y="411" width="2" height="1" fill="#000"/><rect x="981" y="460" width="1" height="1" fill="#000"/><rect x="981" y="465" width="1" height="1" fill="#000"/><rect x="981" y="552" width="1" height="1" fill="#000"/><rect x="981" y="557" width="1" height="1" fill="#000"/><rect x="981" y="574" width="1" height="1" fill="#000"/><rect x="3" y="576" width="1" height="3" fill="#000"/><rect x="67" y="576" width="1" height="3" fill="#000"/><rect x="131" y="576" width="1" height="3" fill="#000"/><rect x="195" y="576" width="1" height="3" fill="#000"/><rect x="259" y="576" width="1" height="3" fill="#000"/><rect x="323" y="576" width="1" height="3" fill="#000"/><rect x="387" y="576" width="1" height="3" fill="#000"/><rect x="451" y="576" width="1" height="3" fill="#000"/><rect x="515" y="576" width="1" height="3" fill="#000"/><rect x="579" y="576" width="1" height="3" fill="#000"/><rect x="643" y="576" width="1" height="3" fill="#000"/><rect x="707" y="576" width="1" height="3" fill="#000"/><rect x="771" y="576" width="1" height="3" fill="#000"/><rect x="835" y="576" width="1" height="3" fill="#000"/><rect x="899" y="576" width="1" height="3" fill="#000"/></g>
<g font-family="'DejaVu Sans', 'Liberation Sans', sans-serif" font-stretch="condensed"><text x="6.40" y="14" font-size="9.5" fill="#000" stroke="#000" stroke-width="0.25" textLength="56.50" lengthAdjust="spacingAndGlyphs" xml:space="preserve">USDCHF,M2</text><text x="68.90" y="14" font-size="9.5" fill="#000" stroke="#000" stroke-width="0.25" textLength="32.95" lengthAdjust="spacingAndGlyphs" xml:space="preserve">1.07600</text><text x="104.90" y="14" font-size="9.5" fill="#000" stroke="#000" stroke-width="0.25" textLength="32.70" lengthAdjust="spacingAndGlyphs" xml:space="preserve">1.07605</text><text x="140.90" y="14" font-size="9.5" fill="#000" stroke="#000" stroke-width="0.25" textLength="32.20" lengthAdjust="spacingAndGlyphs" xml:space="preserve">1.07511</text><text x="176.90" y="14" font-size="9.5" fill="#000" stroke="#000" stroke-width="0.25" textLength="32.45" lengthAdjust="spacingAndGlyphs" xml:space="preserve">1.07581</text><text x="6.00" y="372.5" font-size="9.5" fill="#000" stroke="#000" stroke-width="0.25" textLength="33.90" lengthAdjust="spacingAndGlyphs" xml:space="preserve">ProFx03</text><text x="42.60" y="372.5" font-size="9.5" fill="#000" stroke="#000" stroke-width="0.25" textLength="31.90" lengthAdjust="spacingAndGlyphs" xml:space="preserve">-1.5933</text><text x="80.40" y="372.5" font-size="9.5" fill="#000" stroke="#000" stroke-width="0.25" textLength="36.60" lengthAdjust="spacingAndGlyphs" xml:space="preserve">ProFX04</text><text x="118.10" y="372.5" font-size="9.5" fill="#000" stroke="#000" stroke-width="0.25" textLength="31.10" lengthAdjust="spacingAndGlyphs" xml:space="preserve">-1.3561</text><text x="6.15" y="477" font-size="9.5" fill="#000" stroke="#000" stroke-width="0.25" textLength="34.35" lengthAdjust="spacingAndGlyphs" xml:space="preserve">ProFx05</text><text x="43.00" y="477" font-size="9.5" fill="#000" stroke="#000" stroke-width="0.25" textLength="33.70" lengthAdjust="spacingAndGlyphs" xml:space="preserve">44.1279</text><text x="82.30" y="477" font-size="9.5" fill="#000" stroke="#000" stroke-width="0.25" textLength="50.60" lengthAdjust="spacingAndGlyphs" xml:space="preserve">ProFx06(14)</text><text x="135.40" y="477" font-size="9.5" fill="#000" stroke="#000" stroke-width="0.25" textLength="33.10" lengthAdjust="spacingAndGlyphs" xml:space="preserve">0.00823</text><text x="171.00" y="477" font-size="9.5" fill="#000" stroke="#000" stroke-width="0.25" textLength="33.70" lengthAdjust="spacingAndGlyphs" xml:space="preserve">0.00000</text><text x="207.20" y="477" font-size="9.5" fill="#000" stroke="#000" stroke-width="0.25" textLength="33.10" lengthAdjust="spacingAndGlyphs" xml:space="preserve">0.00000</text><text x="5.40" y="569.5" font-size="9.5" fill="#000" stroke="#000" stroke-width="0.25" textLength="208.20" lengthAdjust="spacingAndGlyphs" xml:space="preserve">ProFx07(Period_1000) 2.0000 1.0000 0.0000 0.0000</text><text x="7.40" y="569.5" font-size="9.5" fill="#000" stroke="#000" stroke-width="0.25" textLength="234.20" lengthAdjust="spacingAndGlyphs" xml:space="preserve">ProFx08(Pesiod) © 2009 MetaQuotes Software Corp.</text><text x="986.10" y="37" font-size="9.5" fill="#000" stroke="#000" stroke-width="0.25" textLength="33.00" lengthAdjust="spacingAndGlyphs" xml:space="preserve">1.08875</text><text x="986.10" y="69" font-size="9.5" fill="#000" stroke="#000" stroke-width="0.25" textLength="33.00" lengthAdjust="spacingAndGlyphs" xml:space="preserve">1.08625</text><text x="986.10" y="101" font-size="9.5" fill="#000" stroke="#000" stroke-width="0.25" textLength="33.00" lengthAdjust="spacingAndGlyphs" xml:space="preserve">1.08380</text><text x="986.10" y="133" font-size="9.5" fill="#000" stroke="#000" stroke-width="0.25" textLength="33.00" lengthAdjust="spacingAndGlyphs" xml:space="preserve">1.08135</text><text x="986.10" y="165" font-size="9.5" fill="#000" stroke="#000" stroke-width="0.25" textLength="33.00" lengthAdjust="spacingAndGlyphs" xml:space="preserve">1.07890</text><text x="986.10" y="197" font-size="9.5" fill="#000" stroke="#000" stroke-width="0.25" textLength="33.00" lengthAdjust="spacingAndGlyphs" xml:space="preserve">1.07640</text><text x="986.10" y="229" font-size="9.5" fill="#000" stroke="#000" stroke-width="0.25" textLength="33.00" lengthAdjust="spacingAndGlyphs" xml:space="preserve">1.07395</text><text x="986.10" y="261" font-size="9.5" fill="#000" stroke="#000" stroke-width="0.25" textLength="33.00" lengthAdjust="spacingAndGlyphs" xml:space="preserve">1.07150</text><text x="986.10" y="293" font-size="9.5" fill="#000" stroke="#000" stroke-width="0.25" textLength="33.00" lengthAdjust="spacingAndGlyphs" xml:space="preserve">1.06905</text><text x="986.10" y="325" font-size="9.5" fill="#000" stroke="#000" stroke-width="0.25" textLength="33.00" lengthAdjust="spacingAndGlyphs" xml:space="preserve">1.06655</text><text x="986.10" y="357" font-size="9.5" fill="#000" stroke="#000" stroke-width="0.25" textLength="33.00" lengthAdjust="spacingAndGlyphs" xml:space="preserve">1.06410</text><text x="986.10" y="205" font-size="9.5" fill="#fff" stroke="#fff" stroke-width="0.25" textLength="33.00" lengthAdjust="spacingAndGlyphs" xml:space="preserve">1.07581</text><text x="983.30" y="369" font-size="9.5" fill="#000" stroke="#000" stroke-width="0.25" textLength="28.50" lengthAdjust="spacingAndGlyphs" xml:space="preserve">3.7061</text><text x="983.10" y="415" font-size="9.5" fill="#000" stroke="#000" stroke-width="0.25" textLength="18.80" lengthAdjust="spacingAndGlyphs" xml:space="preserve">0.00</text><text x="983.00" y="458" font-size="9.5" fill="#000" stroke="#000" stroke-width="0.25" textLength="31.90" lengthAdjust="spacingAndGlyphs" xml:space="preserve">-3.4319</text><text x="984.10" y="474" font-size="9.5" fill="#000" stroke="#000" stroke-width="0.25" textLength="14.50" lengthAdjust="spacingAndGlyphs" xml:space="preserve">100</text><text x="982.20" y="489" font-size="9.5" fill="#000" stroke="#000" stroke-width="0.25" textLength="13.70" lengthAdjust="spacingAndGlyphs" xml:space="preserve">0.5</text><text x="982.20" y="511" font-size="9.5" fill="#000" stroke="#000" stroke-width="0.25" textLength="10.30" lengthAdjust="spacingAndGlyphs" xml:space="preserve">80</text><text x="982.20" y="511" font-size="9.5" fill="#000" stroke="#000" stroke-width="0.25" textLength="5.60" lengthAdjust="spacingAndGlyphs" xml:space="preserve">0</text><text x="982.30" y="533" font-size="9.5" fill="#000" stroke="#000" stroke-width="0.25" textLength="16.40" lengthAdjust="spacingAndGlyphs" xml:space="preserve">-0.5</text><text x="982.50" y="549.5" font-size="9.5" fill="#000" stroke="#000" stroke-width="0.25" textLength="5.70" lengthAdjust="spacingAndGlyphs" xml:space="preserve">0</text><text x="983.00" y="553.5" font-size="9.5" fill="#000" stroke="#000" stroke-width="0.25" textLength="5.80" lengthAdjust="spacingAndGlyphs" xml:space="preserve">0</text><text x="984.00" y="564" font-size="9.5" fill="#000" stroke="#000" stroke-width="0.25" textLength="4.30" lengthAdjust="spacingAndGlyphs" xml:space="preserve">1</text><text x="983.30" y="572" font-size="9.5" fill="#000" stroke="#000" stroke-width="0.25" textLength="5.50" lengthAdjust="spacingAndGlyphs" xml:space="preserve">0</text><text x="2.30" y="587.9" font-size="9.5" fill="#000" stroke="#000" stroke-width="0.25" textLength="51.30" lengthAdjust="spacingAndGlyphs" xml:space="preserve">15 Feb 2010</text><text x="66.90" y="587.9" font-size="9.5" fill="#000" stroke="#000" stroke-width="0.25" textLength="54.20" lengthAdjust="spacingAndGlyphs" xml:space="preserve">16 Feb 17:32</text><text x="130.90" y="587.9" font-size="9.5" fill="#000" stroke="#000" stroke-width="0.25" textLength="54.20" lengthAdjust="spacingAndGlyphs" xml:space="preserve">17 Feb 06:49</text><text x="194.90" y="587.9" font-size="9.5" fill="#000" stroke="#000" stroke-width="0.25" textLength="54.20" lengthAdjust="spacingAndGlyphs" xml:space="preserve">17 Feb 15:30</text><text x="258.90" y="587.9" font-size="9.5" fill="#000" stroke="#000" stroke-width="0.25" textLength="54.20" lengthAdjust="spacingAndGlyphs" xml:space="preserve">17 Feb 18:28</text><text x="322.90" y="587.9" font-size="9.5" fill="#000" stroke="#000" stroke-width="0.25" textLength="54.20" lengthAdjust="spacingAndGlyphs" xml:space="preserve">18 Feb 08:41</text><text x="386.90" y="587.9" font-size="9.5" fill="#000" stroke="#000" stroke-width="0.25" textLength="54.20" lengthAdjust="spacingAndGlyphs" xml:space="preserve">18 Feb 16:25</text><text x="450.90" y="587.9" font-size="9.5" fill="#000" stroke="#000" stroke-width="0.25" textLength="54.20" lengthAdjust="spacingAndGlyphs" xml:space="preserve">18 Feb 18:37</text><text x="514.90" y="587.9" font-size="9.5" fill="#000" stroke="#000" stroke-width="0.25" textLength="54.20" lengthAdjust="spacingAndGlyphs" xml:space="preserve">18 Feb 23:35</text><text x="578.90" y="587.9" font-size="9.5" fill="#000" stroke="#000" stroke-width="0.25" textLength="54.20" lengthAdjust="spacingAndGlyphs" xml:space="preserve">18 Feb 23:54</text><text x="642.90" y="587.9" font-size="9.5" fill="#000" stroke="#000" stroke-width="0.25" textLength="54.20" lengthAdjust="spacingAndGlyphs" xml:space="preserve">19 Feb 04:22</text><text x="706.90" y="587.9" font-size="9.5" fill="#000" stroke="#000" stroke-width="0.25" textLength="54.20" lengthAdjust="spacingAndGlyphs" xml:space="preserve">19 Feb 11:07</text><text x="770.90" y="587.9" font-size="9.5" fill="#000" stroke="#000" stroke-width="0.25" textLength="54.20" lengthAdjust="spacingAndGlyphs" xml:space="preserve">19 Feb 17:14</text><text x="834.90" y="587.9" font-size="9.5" fill="#000" stroke="#000" stroke-width="0.25" textLength="54.20" lengthAdjust="spacingAndGlyphs" xml:space="preserve">19 Feb 20:47</text><text x="898.90" y="587.9" font-size="9.5" fill="#000" stroke="#000" stroke-width="0.25" textLength="54.20" lengthAdjust="spacingAndGlyphs" xml:space="preserve">22 Feb 09:07</text></g>
</svg></body></html>
